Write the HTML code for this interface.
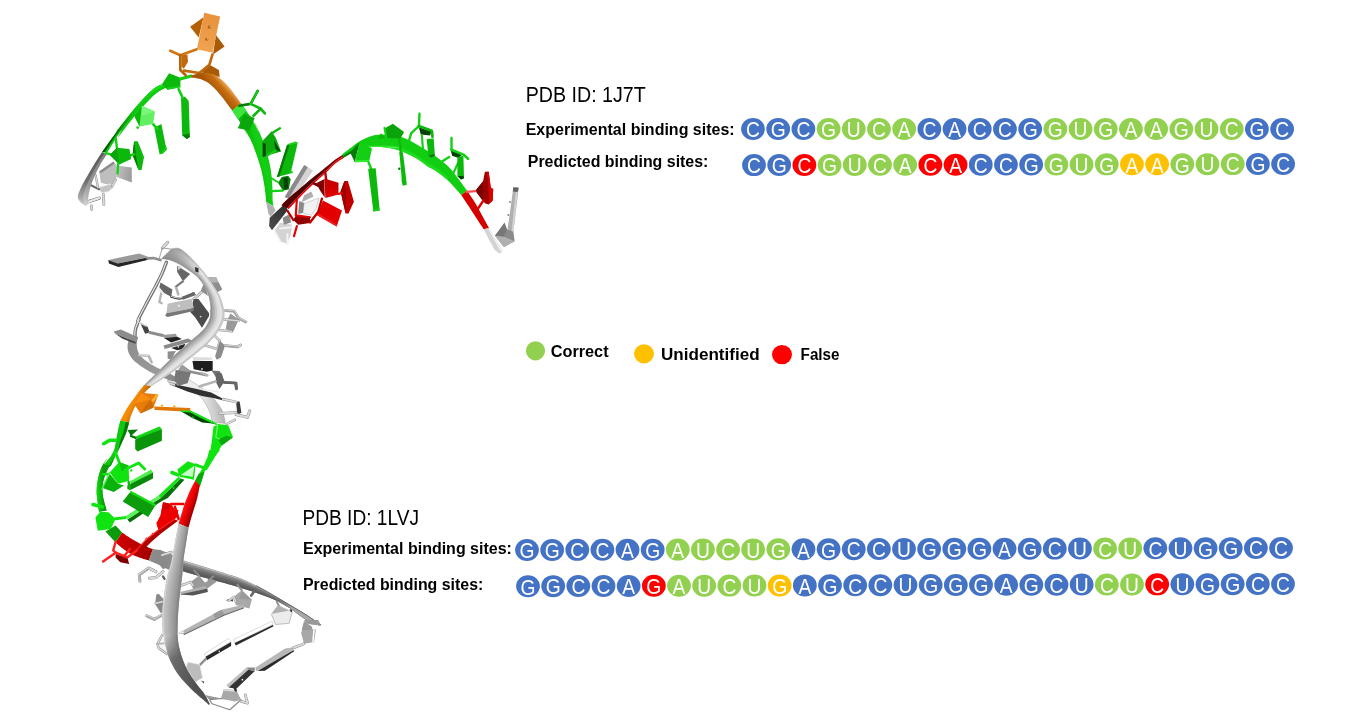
<!DOCTYPE html>
<html><head><meta charset="utf-8"><title>RNA binding sites</title>
<style>
html,body{margin:0;padding:0;background:#fff;}
body{width:1349px;height:720px;overflow:hidden;position:relative;font-family:"Liberation Sans",sans-serif;}
svg{position:absolute;left:0;top:0;will-change:transform;font-family:"Liberation Sans",sans-serif;}
</style></head><body>
<svg width="1349" height="720" viewBox="0 0 1349 720">
<g id="mol">
<defs><linearGradient id="ag1" gradientUnits="userSpaceOnUse" x1="116.7" y1="171.5" x2="131.8" y2="175.1"><stop offset="0" stop-color="#C0C0C0"/><stop offset="1" stop-color="#9C9C9C"/></linearGradient><linearGradient id="ag2" gradientUnits="userSpaceOnUse" x1="162.0" y1="84.3" x2="102.1" y2="151.9"><stop offset="0" stop-color="#18E018"/><stop offset="0.45" stop-color="#10C010"/><stop offset="0.75" stop-color="#087008"/><stop offset="1" stop-color="#045004"/></linearGradient><linearGradient id="ag3" gradientUnits="userSpaceOnUse" x1="102.1" y1="151.9" x2="83.7" y2="205.9"><stop offset="0" stop-color="#585858"/><stop offset="0.55" stop-color="#6E6E6E"/><stop offset="0.85" stop-color="#A0A0A0"/><stop offset="1" stop-color="#D0D0D0"/></linearGradient><linearGradient id="ag4" gradientUnits="userSpaceOnUse" x1="211.2" y1="14.2" x2="204.7" y2="51.0"><stop offset="0" stop-color="#E8923C"/><stop offset="1" stop-color="#F0A352"/></linearGradient><linearGradient id="ag5" gradientUnits="userSpaceOnUse" x1="219.1" y1="95.6" x2="232.2" y2="83.7"><stop offset="0" stop-color="#A85606"/><stop offset="0.45" stop-color="#C66E12"/><stop offset="0.8" stop-color="#F8B468"/><stop offset="1" stop-color="#E89030"/></linearGradient><linearGradient id="ag6" gradientUnits="userSpaceOnUse" x1="249.7" y1="155.6" x2="269.8" y2="150.8"><stop offset="0" stop-color="#0CB80C"/><stop offset="0.6" stop-color="#14D014"/><stop offset="1" stop-color="#10C410"/></linearGradient><linearGradient id="ag7" gradientUnits="userSpaceOnUse" x1="285.1" y1="204.7" x2="269.7" y2="226.0"><stop offset="0" stop-color="#2E2E2E"/><stop offset="1" stop-color="#4A4A4A"/></linearGradient><linearGradient id="ag8" gradientUnits="userSpaceOnUse" x1="331.3" y1="179.7" x2="331.3" y2="197.5"><stop offset="0" stop-color="#C00000"/><stop offset="1" stop-color="#E20000"/></linearGradient><linearGradient id="ag9" gradientUnits="userSpaceOnUse" x1="343.2" y1="155.3" x2="286.7" y2="205.2"><stop offset="0" stop-color="#A80000"/><stop offset="0.25" stop-color="#6A0000"/><stop offset="0.6" stop-color="#4A0000"/><stop offset="1" stop-color="#560000"/></linearGradient><linearGradient id="ag10" gradientUnits="userSpaceOnUse" x1="392.2" y1="145.1" x2="392.2" y2="148.9"><stop offset="0" stop-color="#12CE12"/><stop offset="0.6" stop-color="#40F440"/><stop offset="1" stop-color="#1CDC1C"/></linearGradient></defs>
<polygon points="304.2,165.1 313.1,170.4 295.9,195.9 287.6,198.9 284.7,197.1" fill="#D4D4D4"/>
<polygon points="304.2,165.1 307.8,167.2 288.8,198.3 284.7,197.1" fill="#8A8A8A"/>
<polygon points="304.1,203.5 318.9,198.1 315.9,209.4 311.2,215.3 302.9,213.0" fill="#F2F2F2" stroke="#999" stroke-width="0.4" stroke-linejoin="round"/>
<polygon points="304.1,195.2 311.2,191.6 313.5,196.4 301.7,202.3" fill="#B0B0B0"/>
<polygon points="299.3,201.1 304.1,202.9 302.9,213.0 298.1,214.1" fill="#8A8A8A"/>
<polygon points="181.0,98.0 185.1,96.8 188.7,100.9 189.9,137.1 186.9,138.9 182.2,135.3" fill="#0CB80C"/>
<polygon points="182.2,135.3 186.9,138.9 189.9,137.1 189.3,133.5" fill="#087A08"/>
<polyline points="178.6,89.1 182.8,98.0" fill="none" stroke="#14D014" stroke-width="2.64" stroke-linecap="round" stroke-linejoin="round"/>
<polygon points="154.3,127.6 161.4,124.1 165.6,145.1 166.8,149.6 162.6,153.7 159.6,154.3" fill="#0CB80C"/>
<polygon points="159.6,154.3 162.6,153.7 166.8,149.6 166.2,146.6" fill="#14D014"/>
<polyline points="153.1,124.1 157.3,128.8" fill="none" stroke="#14D014" stroke-width="2.64" stroke-linecap="round" stroke-linejoin="round"/>
<polygon points="134.1,141.3 137.7,141.3 144.0,157.0 141.6,170.1 138.5,170.1 132.6,154.9" fill="#0CB80C"/>
<polygon points="132.6,154.9 134.1,141.3 135.9,155.5 138.5,170.1" fill="#087A08"/>
<polyline points="130.0,155.5 134.1,154.3" fill="none" stroke="#14D014" stroke-width="2.64" stroke-linecap="round" stroke-linejoin="round"/>
<polygon points="99.1,171.5 113.4,161.4 116.7,165.6 116.7,176.9 112.2,185.8 100.9,182.8" fill="#BEBEBE"/>
<polygon points="99.1,171.5 113.4,161.4 114.6,163.8 100.9,173.3" fill="#8E8E8E"/>
<polygon points="116.7,165.6 131.8,167.4 131.8,182.4 116.7,176.9" fill="url(#ag1)"/>
<polygon points="98.0,187.5 109.8,184.0 114.0,186.9 108.6,191.7 101.5,192.9" fill="#C4C4C4" stroke="#F4F4F4" stroke-width="0.9" stroke-linejoin="round"/>
<polyline points="90.8,185.2 99.1,189.3" fill="none" stroke="#606060" stroke-width="1.92" stroke-linecap="round" stroke-linejoin="round"/>
<polyline points="112.2,185.8 115.8,179.8" fill="none" stroke="#8C8C8C" stroke-width="2.52" stroke-linecap="round" stroke-linejoin="round"/>
<polyline points="112.2,185.8 115.8,179.8" fill="none" stroke="#DADADA" stroke-width="1.62" stroke-linecap="round" stroke-linejoin="round"/>
<polyline points="103.3,194.1 103.9,204.7" fill="none" stroke="#8C8C8C" stroke-width="2.76" stroke-linecap="round" stroke-linejoin="round"/>
<polyline points="103.3,194.1 103.9,204.7" fill="none" stroke="#DADADA" stroke-width="1.8599999999999999" stroke-linecap="round" stroke-linejoin="round"/>
<polyline points="99.1,198.2 87.9,201.8" fill="none" stroke="#555" stroke-width="3.2399999999999998" stroke-linecap="round" stroke-linejoin="round"/>
<polyline points="99.1,198.2 87.9,201.8" fill="none" stroke="#E8E8E8" stroke-width="2.34" stroke-linecap="round" stroke-linejoin="round"/>
<polyline points="91.4,205.9 91.8,209.5" fill="none" stroke="#8C8C8C" stroke-width="2.76" stroke-linecap="round" stroke-linejoin="round"/>
<polyline points="91.4,205.9 91.8,209.5" fill="none" stroke="#DADADA" stroke-width="1.8599999999999999" stroke-linecap="round" stroke-linejoin="round"/>
<polyline points="95.6,175.1 98.0,187.5" fill="none" stroke="#8C8C8C" stroke-width="2.2800000000000002" stroke-linecap="round" stroke-linejoin="round"/>
<polyline points="95.6,175.1 98.0,187.5" fill="none" stroke="#DADADA" stroke-width="1.3800000000000001" stroke-linecap="round" stroke-linejoin="round"/>
<path d="M180.4,79.0 C177.3,79.9 166.7,82.5 162.0,84.3 C157.4,86.1 155.7,87.2 152.5,89.7 C149.4,92.1 146.2,95.8 143.0,99.1 C139.9,102.5 136.7,106.1 133.5,109.8 C130.4,113.6 127.0,117.9 124.1,121.7 C121.1,125.4 116.9,130.8 115.8,132.4 C114.6,133.9 119.2,127.9 116.9,131.2 C114.7,134.5 104.6,148.5 102.1,151.9 L107.4,152.5 C109.7,148.9 119.3,133.2 121.1,130.6 C122.9,128.0 117.2,137.8 118.1,137.1 C119.0,136.4 123.5,130.2 126.4,126.4 C129.4,122.7 132.8,118.3 135.9,114.6 C139.1,110.8 142.2,107.3 145.4,103.9 C148.6,100.5 151.7,97.0 154.9,94.4 C158.1,91.8 160.1,90.7 164.4,88.5 C168.6,86.2 177.7,82.0 180.4,80.8 Z" fill="#10C810"/>
<path d="M180.4,79.0 C177.3,79.9 166.7,82.5 162.0,84.3 C157.4,86.1 155.7,87.2 152.5,89.7 C149.4,92.1 146.2,95.8 143.0,99.1 C139.9,102.5 136.7,106.1 133.5,109.8 C130.4,113.6 127.0,117.9 124.1,121.7 C121.1,125.4 116.9,130.8 115.8,132.4 C114.6,133.9 119.2,127.9 116.9,131.2 C114.7,134.5 104.6,148.5 102.1,151.9 L104.8,152.2 C107.2,148.7 117.0,133.8 119.0,130.9 C121.0,128.0 115.9,135.9 116.9,134.7 C118.0,133.6 122.3,127.8 125.2,124.1 C128.2,120.3 131.6,116.0 134.7,112.2 C137.9,108.4 141.1,104.9 144.2,101.5 C147.4,98.2 150.5,94.5 153.7,92.0 C156.9,89.5 158.8,88.4 163.2,86.4 C167.7,84.4 177.5,81.0 180.4,79.9 Z" fill="url(#ag2)"/>
<path d="M102.1,151.9 C101.0,153.6 97.9,158.4 95.6,162.0 C93.3,165.7 90.6,170.1 88.5,173.9 C86.3,177.6 84.3,180.8 82.5,184.6 C80.8,188.3 78.1,193.5 77.8,196.4 C77.5,199.4 79.4,200.8 80.8,202.4 C82.1,203.9 85.2,205.3 86.1,205.9 L86.3,205.9 C86.6,205.5 87.5,205.3 87.9,203.5 C88.2,201.8 88.0,198.2 88.5,195.2 C89.0,192.3 89.8,189.1 90.8,185.8 C91.9,182.4 93.4,178.6 95.0,175.1 C96.6,171.5 98.4,167.9 100.3,164.4 C102.3,160.9 105.8,156.0 106.9,154.3 Z" fill="url(#ag3)"/>
<path d="M104.5,153.1 C103.4,154.8 100.1,159.7 98.0,163.2 C95.8,166.8 93.6,170.8 91.7,174.5 C89.9,178.1 88.1,181.6 86.7,185.2 C85.3,188.7 83.5,192.9 83.1,195.8 C82.7,198.8 83.8,201.3 84.3,203.0 C84.8,204.6 85.9,205.4 86.2,205.9 L86.3,205.9 C86.6,205.5 87.5,205.3 87.9,203.5 C88.2,201.8 88.0,198.2 88.5,195.2 C89.0,192.3 89.8,189.1 90.8,185.8 C91.9,182.4 93.4,178.6 95.0,175.1 C96.6,171.5 98.4,167.9 100.3,164.4 C102.3,160.9 105.8,156.0 106.9,154.3 Z" fill="#FFFFFF40"/>
<polygon points="169.1,73.3 180.4,77.8 180.4,87.3 167.4,89.7 162.0,84.3" fill="#0CB80C"/>
<polygon points="167.4,89.7 180.4,87.3 180.4,85.5 166.8,87.5" fill="#14D014"/>
<polyline points="180.4,79.0 191.1,76.0" fill="none" stroke="#14D014" stroke-width="2.88" stroke-linecap="round" stroke-linejoin="round"/>
<polygon points="141.9,105.7 154.9,111.6 153.1,124.1 139.5,126.4 134.1,115.8" fill="#62F062"/>
<polygon points="134.1,115.8 141.9,105.7 140.7,115.8 139.5,126.4" fill="#0CB80C"/>
<polygon points="141.9,105.7 154.9,111.6 141.9,115.8" fill="#7CF67C"/>
<circle cx="137.7" cy="127.6" r="1.4" fill="#14D014"/>
<polyline points="115.8,138.3 116.9,147.8" fill="none" stroke="#14D014" stroke-width="2.4" stroke-linecap="round" stroke-linejoin="round"/>
<polyline points="105.7,153.1 111.0,154.3" fill="none" stroke="#14D014" stroke-width="2.4" stroke-linecap="round" stroke-linejoin="round"/>
<polygon points="116.9,147.8 129.4,149.0 131.2,159.1 119.3,164.4 109.8,154.9" fill="#0CB80C"/>
<polygon points="116.9,147.8 119.3,164.4 109.8,154.9" fill="#0AA50A"/>
<polyline points="118.1,163.8 117.5,173.3" fill="none" stroke="#14D014" stroke-width="2.4" stroke-linecap="round" stroke-linejoin="round"/>
<polygon points="190.1,26.7 203.5,17.2 198.7,37.4" fill="#B46006"/>
<polygon points="215.9,35.0 224.6,46.6 213.0,54.6" fill="#A85A06"/>
<polygon points="209.4,64.7 218.9,70.0 219.7,77.1 201.7,72.4" fill="#A85A06"/>
<polygon points="181.5,55.2 187.4,54.6 188.0,61.7 183.9,68.8 181.5,66.4" fill="#C0680C"/>
<polyline points="170.2,50.8 180.3,55.2 196.9,49.2" fill="none" stroke="#D07414" stroke-width="2.64" stroke-linecap="round" stroke-linejoin="round"/>
<polyline points="180.3,55.2 180.3,70.0 185.7,75.3" fill="none" stroke="#B8640A" stroke-width="2.64" stroke-linecap="round" stroke-linejoin="round"/>
<polyline points="183.9,70.6 199.3,73.0 209.4,64.7 212.4,54.6" fill="none" stroke="#C0680C" stroke-width="2.64" stroke-linecap="round" stroke-linejoin="round"/>
<polygon points="204.3,12.8 220.1,16.4 212.6,52.8 196.9,49.2" fill="url(#ag4)"/>
<circle cx="209.4" cy="27.0" r="1.7" fill="#A86414"/>
<circle cx="206.7" cy="39.1" r="1.7" fill="#A86414"/>
<circle cx="210.0" cy="26.7" r="0.7" fill="#F4C088"/>
<circle cx="207.3" cy="38.8" r="0.7" fill="#F4C088"/>
<path d="M191.3,75.4 C192.9,75.0 198.1,73.3 201.4,73.0 C204.6,72.8 207.9,72.9 210.8,73.6 C213.8,74.4 216.4,75.8 219.1,77.8 C221.9,79.8 224.9,82.7 227.4,85.5 C230.0,88.3 232.3,91.4 234.6,94.4 C236.8,97.4 240.0,101.8 241.1,103.3 L232.2,110.4 C231.0,108.8 227.6,104.2 225.1,100.9 C222.5,97.7 219.5,93.8 216.8,90.8 C214.0,87.9 211.2,85.1 208.5,83.1 C205.7,81.2 203.0,79.9 200.2,79.0 C197.3,78.1 192.8,78.0 191.3,77.8 Z" fill="url(#ag5)"/>
<path d="M241.1,103.3 C242.0,104.6 244.4,107.9 246.4,111.0 C248.5,114.1 251.4,117.9 253.5,121.7 C255.7,125.4 259.3,133.6 259.5,133.5 C259.6,133.5 254.3,121.1 254.4,121.2 C254.5,121.3 258.4,129.3 260.3,134.2 C262.3,139.2 264.6,145.3 266.3,150.8 C267.9,156.4 269.4,161.9 270.4,167.4 C271.4,173.0 271.8,178.3 272.2,184.1 C272.6,189.8 272.5,198.1 272.8,201.9 C273.1,205.6 273.6,205.7 273.8,206.4 L266.1,201.7 C266.1,201.7 266.5,204.4 266.3,201.9 C266.0,199.3 265.3,191.6 264.5,186.4 C263.7,181.3 262.8,176.1 261.5,171.0 C260.2,165.9 258.6,160.7 256.8,155.6 C255.0,150.4 253.0,144.7 250.8,140.2 C248.7,135.6 244.1,128.6 243.7,128.3 C243.4,128.0 248.7,138.2 248.8,138.3 C248.9,138.4 245.8,132.0 244.1,128.8 C242.3,125.6 240.1,122.4 238.1,119.3 C236.1,116.2 233.2,111.9 232.2,110.4 Z" fill="url(#ag6)"/>
<polygon points="232.2,110.4 241.1,103.3 246.4,111.0 238.1,119.3" fill="#3CE43C"/>
<polyline points="239.3,105.7 250.6,103.9 257.7,90.8" fill="none" stroke="#087A08" stroke-width="2.64" stroke-linecap="round" stroke-linejoin="round"/>
<polyline points="250.6,103.9 260.7,108.6 264.8,113.4" fill="none" stroke="#0CB80C" stroke-width="2.64" stroke-linecap="round" stroke-linejoin="round"/>
<polyline points="260.7,108.6 253.5,115.8" fill="none" stroke="#0CB80C" stroke-width="2.64" stroke-linecap="round" stroke-linejoin="round"/>
<polyline points="250.6,103.9 257.7,90.8" fill="none" stroke="#14D014" stroke-width="1.92" stroke-linecap="round" stroke-linejoin="round"/>
<polygon points="244.1,114.0 254.7,118.1 249.4,130.6 237.8,128.2" fill="#0AA80A"/>
<polyline points="272.2,133.0 279.9,128.3" fill="none" stroke="#0CB80C" stroke-width="2.4" stroke-linecap="round" stroke-linejoin="round"/>
<polygon points="262.7,140.8 271.6,131.3 275.8,137.8 281.1,151.4 267.4,155.6 262.7,156.8" fill="#0CA80C"/>
<polygon points="262.7,142.5 265.7,143.7 265.7,156.2 262.7,156.8" fill="#034403"/>
<polygon points="274.0,140.2 280.5,151.4 275.8,149.7" fill="#034403"/>
<polyline points="267.4,155.6 275.8,150.2" fill="none" stroke="#14D014" stroke-width="1.92" stroke-linecap="round" stroke-linejoin="round"/>
<polygon points="287.0,144.9 297.7,143.1 290.6,173.4 276.9,176.9" fill="#0CB80C"/>
<polygon points="287.0,144.3 295.9,141.4 298.3,143.1 289.4,145.5" fill="#14D014"/>
<polygon points="287.0,144.9 289.4,145.5 279.3,176.7 276.9,176.9" fill="#087A08"/>
<polygon points="281.7,176.9 288.2,175.8 290.6,179.3 288.8,189.4 282.9,190.6 278.1,182.9" fill="#087A08"/>
<polygon points="283.5,178.1 287.6,177.5 288.2,188.2 284.1,189.4" fill="#034403"/>
<polyline points="269.2,176.9 278.1,182.3" fill="none" stroke="#14D014" stroke-width="1.92" stroke-linecap="round" stroke-linejoin="round"/>
<polyline points="271.6,191.2 282.9,190.6" fill="none" stroke="#14D014" stroke-width="2.16" stroke-linecap="round" stroke-linejoin="round"/>
<polyline points="290.0,172.2 291.8,172.2" fill="none" stroke="#14D014" stroke-width="2.16" stroke-linecap="round" stroke-linejoin="round"/>
<polygon points="266.1,201.7 273.8,207.0 275.6,210.6 270.8,216.5 268.5,214.1" fill="#B0B0B0"/>
<polygon points="274.4,230.8 280.3,241.4 287.4,243.8 291.0,234.3 292.2,224.8 280.3,222.4" fill="#D4D4D4"/>
<polyline points="274.4,230.8 280.3,241.4" fill="none" stroke="#F2F2F2" stroke-width="1.92" stroke-linecap="round" stroke-linejoin="round"/>
<polyline points="287.4,234.3 287.4,243.8" fill="none" stroke="#F2F2F2" stroke-width="2.16" stroke-linecap="round" stroke-linejoin="round"/>
<polyline points="280.3,228.4 292.2,227.2" fill="none" stroke="#F2F2F2" stroke-width="1.92" stroke-linecap="round" stroke-linejoin="round"/>
<polygon points="282.7,217.7 289.8,214.1 291.0,222.4 283.9,224.8" fill="#8A8A8A"/>
<polygon points="269.7,217.7 285.7,202.9 287.4,210.6 272.0,230.2 269.1,226.0" fill="url(#ag7)"/>
<polygon points="315.9,183.3 324.2,179.2 324.8,197.5 320.7,191.6" fill="#7E0000"/>
<polygon points="324.2,178.6 338.5,182.7 338.5,194.6 325.4,198.1" fill="url(#ag8)"/>
<polygon points="344.4,180.9 347.9,180.9 353.9,201.7 348.5,213.6 345.6,213.6 340.6,191.6" fill="#C00000"/>
<polygon points="340.6,191.6 344.4,180.9 346.2,192.8 345.6,213.6" fill="#A00000"/>
<polyline points="338.5,194.0 342.3,192.8" fill="none" stroke="#E20000" stroke-width="2.16" stroke-linecap="round" stroke-linejoin="round"/>
<polygon points="323.0,200.5 342.0,210.6 336.7,226.6 317.1,215.3" fill="#E20000"/>
<polygon points="317.1,215.3 336.7,226.6 337.3,224.8 318.3,213.6" fill="#F02020"/>
<polygon points="295.8,215.3 310.0,217.1 310.0,223.0 298.1,224.8 293.4,220.1" fill="#900000"/>
<polyline points="296.9,198.7 295.8,215.3" fill="none" stroke="#E20000" stroke-width="2.16" stroke-linecap="round" stroke-linejoin="round"/>
<polyline points="287.4,210.6 293.4,220.1" fill="none" stroke="#C00000" stroke-width="2.16" stroke-linecap="round" stroke-linejoin="round"/>
<polyline points="295.8,215.3 310.0,217.1" fill="none" stroke="#E20000" stroke-width="1.92" stroke-linecap="round" stroke-linejoin="round"/>
<polyline points="310.0,222.4 318.3,211.8 321.9,198.7" fill="none" stroke="#C00000" stroke-width="2.4" stroke-linecap="round" stroke-linejoin="round"/>
<polyline points="296.9,226.0 294.0,236.1" fill="none" stroke="#E20000" stroke-width="2.16" stroke-linecap="round" stroke-linejoin="round"/>
<polyline points="313.5,183.3 318.3,185.7" fill="none" stroke="#7E0000" stroke-width="2.16" stroke-linecap="round" stroke-linejoin="round"/>
<path d="M343.2,154.4 C341.9,155.3 339.1,156.7 335.6,159.3 C332.2,161.9 326.5,166.8 322.5,170.0 C318.6,173.2 315.6,175.3 311.8,178.4 C308.0,181.4 303.8,185.1 299.9,188.5 C295.9,191.9 291.0,195.9 287.9,198.7 C284.8,201.4 282.4,204.1 281.3,205.2 L287.3,208.2 C288.8,206.6 293.2,201.8 296.3,198.7 C299.4,195.5 302.6,192.2 305.8,189.1 C309.0,186.0 312.2,183.0 315.4,180.1 C318.6,177.3 321.6,174.9 324.9,171.8 C328.3,168.7 332.5,164.3 335.6,161.7 C338.7,159.2 342.1,157.4 343.5,156.6 Z" fill="url(#ag9)"/>
<path d="M343.5,156.6 C342.1,157.4 338.7,159.2 335.6,161.7 C332.5,164.3 328.3,168.7 324.9,171.8 C321.6,174.9 318.6,177.3 315.4,180.1 C312.2,183.0 309.0,186.0 305.8,189.1 C302.6,192.2 299.4,195.5 296.3,198.7 C293.2,201.8 288.8,206.6 287.3,208.2 L288.8,208.9 C290.3,207.3 294.7,202.6 297.8,199.4 C300.8,196.2 304.1,192.9 307.3,189.8 C310.5,186.7 313.7,183.7 316.9,180.7 C320.0,177.8 323.3,175.2 326.4,172.3 C329.5,169.4 332.8,165.7 335.6,163.3 C338.5,161.0 342.3,158.9 343.6,158.0 Z" fill="#E20000"/>
<polyline points="325.0,171.0 326.2,179.3" fill="none" stroke="#C00000" stroke-width="2.4" stroke-linecap="round" stroke-linejoin="round"/>
<polyline points="313.7,183.5 319.6,186.4" fill="none" stroke="#7E0000" stroke-width="2.16" stroke-linecap="round" stroke-linejoin="round"/>
<path d="M342.4,154.0 C344.0,152.8 348.7,149.1 351.9,146.9 C355.0,144.6 358.2,142.1 361.4,140.3 C364.5,138.6 367.7,137.2 370.8,136.2 C374.0,135.2 376.8,134.5 380.3,134.4 C383.9,134.3 388.2,135.0 392.2,135.6 C396.1,136.2 400.1,136.6 404.1,138.0 C408.0,139.3 412.0,141.7 415.9,143.9 C419.9,146.1 423.8,148.4 427.8,151.0 C431.7,153.6 435.7,156.1 439.6,159.3 C443.6,162.5 446.9,164.7 451.5,170.0 C456.1,175.2 464.5,187.3 467.1,190.8 L461.2,194.9 C458.8,192.3 451.4,183.6 446.9,179.5 C442.5,175.3 437.7,172.2 434.5,170.0 C431.3,167.8 430.9,168.4 427.8,166.4 C424.7,164.5 419.9,160.5 415.9,158.1 C412.0,155.8 408.0,153.8 404.1,152.2 C400.1,150.6 396.0,149.5 392.2,148.6 C388.4,147.7 384.9,147.2 381.5,146.9 C378.2,146.6 375.2,146.6 372.0,146.9 C368.9,147.2 365.7,147.7 362.5,148.6 C359.4,149.5 356.3,150.6 353.0,152.2 C349.8,153.8 344.6,157.1 343.0,158.1 Z" fill="#12CE12"/>
<path d="M362.5,146.5 C364.1,146.1 368.9,144.6 372.0,144.1 C375.2,143.7 378.2,143.7 381.5,143.9 C384.9,144.1 388.4,144.7 392.2,145.6 C396.0,146.4 400.1,147.3 404.1,148.9 C408.0,150.4 412.0,152.5 415.9,154.8 C419.9,157.1 424.3,160.6 427.8,162.9 C431.3,165.1 433.4,165.7 436.9,168.2 C440.3,170.8 446.7,176.4 448.7,178.1 L446.9,179.5 C444.9,177.9 437.7,172.2 434.5,170.0 C431.3,167.8 430.9,168.4 427.8,166.4 C424.7,164.5 419.9,160.5 415.9,158.1 C412.0,155.8 408.0,153.8 404.1,152.2 C400.1,150.6 396.0,149.5 392.2,148.6 C388.4,147.7 384.9,147.2 381.5,146.9 C378.2,146.6 375.2,146.6 372.0,146.9 C368.9,147.2 364.1,148.3 362.5,148.6 Z" fill="url(#ag10)"/>
<polygon points="343.0,158.1 353.0,152.2 357.8,149.8 351.9,150.4 342.6,156.0" fill="#087A08"/>
<polygon points="350.1,152.2 359.6,142.1 354.8,162.3" fill="#087A08"/>
<polygon points="359.6,142.1 372.0,148.6 369.1,161.7 354.8,162.3" fill="#14D014"/>
<polygon points="354.8,162.3 369.1,161.7 368.8,159.9 354.8,160.3" fill="#30EE30"/>
<polyline points="368.5,162.3 371.4,169.4" fill="none" stroke="#14D014" stroke-width="2.4" stroke-linecap="round" stroke-linejoin="round"/>
<polygon points="368.1,168.7 375.7,168.2 379.7,210.5 373.4,211.4" fill="#0CB80C"/>
<polygon points="373.4,211.4 379.7,210.5 379.4,208.3 373.2,209.2" fill="#14D014"/>
<polygon points="378.0,139.1 380.9,133.2 385.7,138.0" fill="#0CB80C"/>
<polygon points="392.8,123.7 404.1,132.0 400.5,138.6 386.9,138.0 384.5,128.5" fill="#0AA40A"/>
<polyline points="384.5,127.9 386.3,137.4" fill="none" stroke="#14D014" stroke-width="2.16" stroke-linecap="round" stroke-linejoin="round"/>
<polyline points="399.3,139.1 401.1,154.6" fill="none" stroke="#0CB80C" stroke-width="2.4" stroke-linecap="round" stroke-linejoin="round"/>
<polygon points="399.3,152.2 402.9,152.2 407.0,185.1 404.8,170.0 406.8,184.8 402.8,185.7 399.5,170.0 402.3,185.1" fill="#0CB80C"/>
<circle cx="399.3" cy="168.8" r="1.2" fill="#087A08"/>
<polygon points="418.9,127.3 431.3,131.4 430.2,135.6 420.7,134.4" fill="#034403"/>
<polyline points="419.5,113.6 418.9,126.1" fill="none" stroke="#14D014" stroke-width="2.4" stroke-linecap="round" stroke-linejoin="round"/>
<polyline points="418.9,126.1 411.2,133.2 408.8,141.5" fill="none" stroke="#14D014" stroke-width="2.4" stroke-linecap="round" stroke-linejoin="round"/>
<polyline points="418.9,126.1 431.9,130.8 432.5,136.8" fill="none" stroke="#0CB80C" stroke-width="2.64" stroke-linecap="round" stroke-linejoin="round"/>
<polyline points="421.9,135.6 423.0,149.8" fill="none" stroke="#14D014" stroke-width="2.16" stroke-linecap="round" stroke-linejoin="round"/>
<polygon points="426.6,139.1 433.7,138.6 434.9,155.8 431.3,157.5 428.4,155.8" fill="#0CB80C"/>
<polygon points="428.4,155.8 431.3,157.5 434.9,155.8 434.3,154.0" fill="#087A08"/>
<polygon points="450.9,150.4 462.2,154.6 458.6,158.1 452.1,155.8" fill="#034403"/>
<polyline points="451.5,138.0 451.5,149.8" fill="none" stroke="#14D014" stroke-width="2.4" stroke-linecap="round" stroke-linejoin="round"/>
<polyline points="451.5,149.8 463.4,154.6 468.1,158.7" fill="none" stroke="#14D014" stroke-width="2.64" stroke-linecap="round" stroke-linejoin="round"/>
<polyline points="449.1,156.9 439.6,162.9" fill="none" stroke="#14D014" stroke-width="2.4" stroke-linecap="round" stroke-linejoin="round"/>
<polyline points="458.6,161.7 452.7,174.7" fill="none" stroke="#14D014" stroke-width="2.16" stroke-linecap="round" stroke-linejoin="round"/>
<polygon points="457.4,156.9 463.4,155.8 464.0,178.3 461.0,179.5 457.4,175.9" fill="#0CB80C"/>
<polygon points="457.4,175.9 461.0,179.5 464.0,178.3 463.4,175.9" fill="#034403"/>
<path d="M467.1,190.8 C468.5,192.8 472.8,199.0 475.4,203.2 C478.0,207.5 480.3,212.1 482.5,216.3 C484.8,220.4 488.0,226.1 489.1,228.1 L483.7,229.3 C482.5,227.5 479.2,222.6 476.6,218.6 C474.0,214.7 470.9,209.5 468.3,205.6 C465.7,201.6 462.4,196.7 461.2,194.9 Z" fill="#D40000"/>
<polygon points="483.7,229.3 489.1,228.1 494.4,237.6 500.3,247.1 502.7,251.9 499.1,253.6 494.4,249.5 488.5,238.8" fill="#D4D4D4"/>
<polyline points="489.1,229.3 501.5,251.9" fill="none" stroke="#F2F2F2" stroke-width="1.2" stroke-linecap="round" stroke-linejoin="round"/>
<polygon points="484.9,171.8 488.7,171.8 490.8,187.8 493.2,189.0 492.6,200.8 488.5,204.4 484.9,203.2 475.4,190.8 483.1,181.3" fill="#9A0000"/>
<polygon points="486.7,171.8 488.7,171.8 490.8,187.8 493.2,189.0 492.6,200.8 489.1,203.8 488.5,187.8" fill="#D80000"/>
<polygon points="475.4,190.8 483.1,181.3 483.7,202.0" fill="#7A0000"/>
<polyline points="466.5,191.9 475.4,191.1" fill="none" stroke="#FF5050" stroke-width="2.16" stroke-linecap="round" stroke-linejoin="round"/>
<polyline points="478.4,208.0 483.7,200.2" fill="none" stroke="#E20000" stroke-width="2.4" stroke-linecap="round" stroke-linejoin="round"/>
<polygon points="513.4,187.2 518.7,187.8 513.4,231.7 507.4,230.5" fill="#B0B0B0"/>
<polygon points="513.4,187.2 518.7,187.8 517.5,191.9 512.8,191.4" fill="#606060"/>
<polygon points="515.7,191.9 517.5,191.9 513.4,231.7 511.6,231.4" fill="#D4D4D4"/>
<circle cx="510.0" cy="202.0" r="1.0" fill="#8A8A8A"/>
<circle cx="508.4" cy="215.1" r="1.0" fill="#8A8A8A"/>
<polygon points="504.5,222.8 506.8,229.3 513.4,231.7 514.6,241.2 503.9,247.1 495.0,235.8" fill="#8A8A8A"/>
<polygon points="495.0,235.8 503.9,236.4 514.6,241.2 503.9,247.1" fill="#B0B0B0"/>
<polygon points="504.5,222.8 506.8,229.3 503.9,236.4 495.0,235.8" fill="#777"/>
<defs><linearGradient id="bg1" gradientUnits="userSpaceOnUse" x1="128.5" y1="345.6" x2="194.9" y2="391.9"><stop offset="0" stop-color="#8E8E8E"/><stop offset="0.5" stop-color="#9A9A9A"/><stop offset="1" stop-color="#666666"/></linearGradient><linearGradient id="bg2" gradientUnits="userSpaceOnUse" x1="201.7" y1="409.1" x2="223.0" y2="405.6"><stop offset="0" stop-color="#EDEDED"/><stop offset="1" stop-color="#B4B4B4"/></linearGradient><linearGradient id="bg3" gradientUnits="userSpaceOnUse" x1="166.4" y1="252.8" x2="200.8" y2="274.1"><stop offset="0" stop-color="#888888D8"/><stop offset="0.45" stop-color="#9A9A9A90"/><stop offset="1" stop-color="#AAAAAA00"/></linearGradient><linearGradient id="bg4" gradientUnits="userSpaceOnUse" x1="127.4" y1="402.8" x2="139.3" y2="408.7"><stop offset="0" stop-color="#FF9408"/><stop offset="0.45" stop-color="#F08808"/><stop offset="1" stop-color="#C06404"/></linearGradient><linearGradient id="bg5" gradientUnits="userSpaceOnUse" x1="96.6" y1="485.6" x2="103.7" y2="485.6"><stop offset="0" stop-color="#12DC12"/><stop offset="1" stop-color="#0A9A0A"/></linearGradient><linearGradient id="bg6" gradientUnits="userSpaceOnUse" x1="184.4" y1="504.6" x2="193.9" y2="508.1"><stop offset="0" stop-color="#FF1010"/><stop offset="0.5" stop-color="#E80000"/><stop offset="1" stop-color="#A00000"/></linearGradient><linearGradient id="bg7" gradientUnits="userSpaceOnUse" x1="119.1" y1="537.3" x2="151.2" y2="555.1"><stop offset="0" stop-color="#D00000"/><stop offset="1" stop-color="#A40000"/></linearGradient><linearGradient id="bg8" gradientUnits="userSpaceOnUse" x1="273.0" y1="597.0" x2="320.0" y2="625.0"><stop offset="0" stop-color="#70707000"/><stop offset="0.4" stop-color="#A4A4A4"/><stop offset="1" stop-color="#ACACAC"/></linearGradient><linearGradient id="bg9" gradientUnits="userSpaceOnUse" x1="169.3" y1="635.0" x2="193.0" y2="688.4"><stop offset="0" stop-color="#6A6A6A00"/><stop offset="0.4" stop-color="#5A5A5ACC"/><stop offset="1" stop-color="#4A4A4AEE"/></linearGradient></defs>
<path d="M134.4,334.9 C133.4,335.9 129.6,338.3 128.5,340.8 C127.4,343.4 127.3,347.4 127.9,350.3 C128.5,353.3 130.0,356.1 132.0,358.6 C134.1,361.2 137.4,363.6 140.3,365.8 C143.3,367.9 146.5,369.9 149.8,371.7 C153.2,373.5 156.9,374.8 160.5,376.4 C164.1,378.0 167.4,379.4 171.2,381.2 C174.9,383.0 179.1,385.1 183.0,387.1 C187.0,389.1 192.9,392.0 194.9,393.0 L202.0,390.7 C200.0,389.5 194.3,385.7 190.2,383.5 C186.0,381.4 181.1,379.6 177.1,377.6 C173.2,375.6 170.0,373.5 166.4,371.7 C162.9,369.9 159.1,368.7 155.8,366.9 C152.4,365.2 149.0,363.2 146.3,361.0 C143.5,358.8 140.7,356.5 139.1,353.9 C137.6,351.3 137.0,348.4 136.8,345.6 C136.6,342.8 137.8,338.7 138.0,337.3 Z" fill="url(#bg1)"/>
<path d="M188.6,379.5 C190.8,380.9 197.9,385.0 201.7,387.8 C205.4,390.6 208.4,393.3 211.2,396.1 C213.9,398.9 216.3,401.6 218.3,404.4 C220.3,407.2 221.9,409.5 223.0,412.7 C224.2,415.9 225.0,421.6 225.4,423.4 L212.4,422.2 C212.0,420.6 211.2,415.9 210.0,412.7 C208.8,409.5 207.0,406.1 205.2,403.2 C203.5,400.3 201.5,397.7 199.3,395.5 C197.1,393.3 195.6,391.8 192.2,390.2 C188.8,388.5 181.3,386.2 179.1,385.4 Z" fill="url(#bg2)" stroke="#888" stroke-width="0.4"/>
<polygon points="168.5,381.3 179.1,385.2 196.9,389.0 211.2,392.5 223.0,398.7 222.4,400.2 213.5,397.9 201.7,395.9 187.4,391.6 169.7,384.5" fill="#303030"/>
<polygon points="167.9,380.1 174.4,381.9 175.6,386.0 169.1,384.2" fill="#D8D8D8"/>
<path d="M166.4,262.3 C165.6,264.3 163.7,269.8 161.7,274.1 C159.7,278.5 157.1,283.4 154.6,288.4 C152.0,293.3 149.0,298.5 146.3,303.8 C143.5,309.1 139.1,317.4 138.0,320.1 C136.8,322.7 139.5,318.0 139.1,319.5 C138.8,321.0 136.3,326.3 135.6,329.0 C134.9,331.6 135.1,334.4 135.0,335.5" fill="none" stroke="#707070" stroke-width="3.4" stroke-linecap="round"/>
<path d="M166.2,262.5 C165.4,264.5 163.4,270.0 161.4,274.4 C159.5,278.7 156.9,283.7 154.3,288.6 C151.8,293.6 148.8,298.8 146.0,304.0 C143.3,309.3 138.9,317.5 137.7,320.1 C136.5,322.6 139.3,318.0 138.9,319.5 C138.5,321.0 136.0,326.3 135.3,329.0 C134.7,331.6 134.9,334.4 134.8,335.5" fill="none" stroke="#E4E4E4" stroke-width="1.2" stroke-linecap="round"/>
<polygon points="108.3,259.9 139.1,253.4 148.6,256.9 117.8,263.5" fill="#9A9A9A"/>
<polygon points="108.3,259.9 117.8,263.5 148.6,257.3 147.4,260.1 118.4,267.0 108.9,263.5" fill="#262626"/>
<polyline points="147.4,258.4 153.4,258.1 160.5,260.1" fill="none" stroke="#8E8E8E" stroke-width="2.64" stroke-linecap="round" stroke-linejoin="round"/>
<polyline points="162.3,248.0 167.6,242.4" fill="none" stroke="#8C8C8C" stroke-width="3.0" stroke-linecap="round" stroke-linejoin="round"/>
<polyline points="162.3,248.0 167.6,242.4" fill="none" stroke="#DADADA" stroke-width="2.1" stroke-linecap="round" stroke-linejoin="round"/>
<polyline points="159.3,258.1 162.3,248.0 172.4,249.2" fill="none" stroke="#666666" stroke-width="0.6" stroke-linecap="round" stroke-linejoin="round"/>
<polygon points="177.1,265.8 190.2,274.1 183.0,281.3 177.1,271.8" fill="#666666"/>
<polygon points="177.7,265.2 181.9,267.0 178.3,270.6" fill="#D2D2D2"/>
<polyline points="183.0,281.3 175.9,286.6 178.3,294.3" fill="none" stroke="#B4B4B4" stroke-width="2.64" stroke-linecap="round" stroke-linejoin="round"/>
<polyline points="183.3,281.0 176.2,286.4" fill="none" stroke="#666666" stroke-width="1.2" stroke-linecap="round" stroke-linejoin="round"/>
<polygon points="160.5,282.4 172.4,289.6 171.2,296.7 164.1,293.1 159.3,287.2" fill="#666666"/>
<polyline points="161.7,291.9 159.3,302.0 161.7,303.2" fill="none" stroke="#B4B4B4" stroke-width="2.4" stroke-linecap="round" stroke-linejoin="round"/>
<polyline points="158.1,288.4 162.9,293.1" fill="none" stroke="#EDEDED" stroke-width="1.68" stroke-linecap="round" stroke-linejoin="round"/>
<path d="M171.2,296.7 C172.8,297.0 176.9,299.1 180.7,298.5 C184.4,297.9 191.5,294.0 193.7,293.1" fill="none" stroke="#3A3A3A" stroke-width="2.2" stroke-linecap="round"/>
<path d="M171.2,296.3 C172.8,296.6 176.9,298.6 180.7,298.0 C184.4,297.4 191.5,293.6 193.7,292.8" fill="none" stroke="#EDEDED" stroke-width="0.9" stroke-linecap="round"/>
<polygon points="181.9,296.7 193.7,292.2 196.1,294.9 183.0,299.7" fill="#666666"/>
<polyline points="193.7,299.1 202.0,291.9" fill="none" stroke="#8C8C8C" stroke-width="2.76" stroke-linecap="round" stroke-linejoin="round"/>
<polyline points="193.7,299.1 202.0,291.9" fill="none" stroke="#DADADA" stroke-width="1.8599999999999999" stroke-linecap="round" stroke-linejoin="round"/>
<polygon points="203.2,284.8 200.8,290.8 207.9,296.1 205.6,286.0" fill="#8E8E8E"/>
<polygon points="206.8,277.1 216.3,277.1 222.2,289.6 217.4,291.9 211.5,282.4" fill="#B4B4B4"/>
<polygon points="211.5,282.4 217.4,291.9 222.2,289.6 218.6,282.4" fill="#8E8E8E"/>
<polygon points="193.7,299.1 198.5,299.1 209.1,313.3 209.1,315.9 202.0,327.8 194.9,317.1 190.2,312.1" fill="#4C4C4C"/>
<circle cx="200.6" cy="316.6" r="0.9" fill="#D2D2D2"/>
<polygon points="167.6,303.8 191.9,298.8 193.7,308.0 166.4,313.3" fill="#BEBEBE"/>
<polygon points="166.4,313.3 193.7,308.0 193.7,310.9 167.6,317.1 165.2,315.7" fill="#777"/>
<circle cx="178.9" cy="305.8" r="1.1" fill="#EDEDED"/>
<polygon points="113.6,331.4 120.8,329.6 138.0,337.3 135.6,342.0 115.4,333.7" fill="#8C8C8C"/>
<polygon points="115.4,333.7 135.6,342.0 135.6,343.7 122.5,338.7" fill="#444"/>
<polygon points="140.3,323.0 147.4,326.6 149.8,332.5 145.1,333.7" fill="#444"/>
<polyline points="139.1,322.5 146.3,326.0" fill="none" stroke="#D2D2D2" stroke-width="1.44" stroke-linecap="round" stroke-linejoin="round"/>
<polyline points="149.8,332.5 162.9,335.5" fill="none" stroke="#8E8E8E" stroke-width="2.88" stroke-linecap="round" stroke-linejoin="round"/>
<polygon points="162.9,334.9 175.9,333.7 177.1,336.7 164.1,337.9" fill="#999"/>
<polygon points="164.1,337.9 177.1,336.7 181.9,339.1 171.2,342.6" fill="#222"/>
<polygon points="167.6,351.5 175.9,350.9 171.2,359.8 167.6,358.6" fill="#8E8E8E"/>
<polygon points="163.5,345.6 187.8,338.5 193.7,341.1 164.7,349.1" fill="#8A8A8A"/>
<polygon points="171.2,348.0 185.4,343.8 183.0,349.1 177.1,350.3" fill="#2A2A2A"/>
<circle cx="178.3" cy="346.8" r="0.9" fill="#D2D2D2"/>
<polyline points="139.1,355.1 148.6,355.7 151.6,362.2" fill="none" stroke="#B4B4B4" stroke-width="2.64" stroke-linecap="round" stroke-linejoin="round"/>
<polyline points="139.4,354.7 148.6,355.3" fill="none" stroke="#EDEDED" stroke-width="1.08" stroke-linecap="round" stroke-linejoin="round"/>
<polygon points="230.5,313.6 238.8,319.5 232.9,332.5 225.7,329.0 227.5,319.5" fill="#999"/>
<polyline points="225.7,310.6 234.0,311.2 238.8,318.3 245.9,321.9" fill="none" stroke="#8C8C8C" stroke-width="2.76" stroke-linecap="round" stroke-linejoin="round"/>
<polyline points="225.7,310.6 234.0,311.2 238.8,318.3 245.9,321.9" fill="none" stroke="#DADADA" stroke-width="1.8599999999999999" stroke-linecap="round" stroke-linejoin="round"/>
<polyline points="225.7,310.9 234.0,311.7 238.8,318.8 245.9,322.3" fill="none" stroke="#8E8E8E" stroke-width="0.84" stroke-linecap="round" stroke-linejoin="round"/>
<polyline points="219.8,330.2 231.7,331.4" fill="none" stroke="#8C8C8C" stroke-width="2.2800000000000002" stroke-linecap="round" stroke-linejoin="round"/>
<polyline points="219.8,330.2 231.7,331.4" fill="none" stroke="#DADADA" stroke-width="1.3800000000000001" stroke-linecap="round" stroke-linejoin="round"/>
<polyline points="224.6,319.5 238.8,320.7" fill="none" stroke="#8C8C8C" stroke-width="2.2800000000000002" stroke-linecap="round" stroke-linejoin="round"/>
<polyline points="224.6,319.5 238.8,320.7" fill="none" stroke="#DADADA" stroke-width="1.3800000000000001" stroke-linecap="round" stroke-linejoin="round"/>
<polyline points="213.9,334.9 219.8,340.8 217.4,349.1 204.4,345.0" fill="none" stroke="#8C8C8C" stroke-width="2.4" stroke-linecap="round" stroke-linejoin="round"/>
<polyline points="213.9,334.9 219.8,340.8 217.4,349.1 204.4,345.0" fill="none" stroke="#DADADA" stroke-width="1.5" stroke-linecap="round" stroke-linejoin="round"/>
<polyline points="213.9,334.9 204.4,345.0" fill="none" stroke="#8C8C8C" stroke-width="2.04" stroke-linecap="round" stroke-linejoin="round"/>
<polyline points="213.9,334.9 204.4,345.0" fill="none" stroke="#DADADA" stroke-width="1.14" stroke-linecap="round" stroke-linejoin="round"/>
<polygon points="219.8,340.8 225.1,345.6 221.0,357.4 216.8,359.8 215.1,356.3 217.4,349.1" fill="#8C8C8C"/>
<polyline points="225.1,345.6 237.6,346.8 240.6,345.0" fill="none" stroke="#8C8C8C" stroke-width="2.76" stroke-linecap="round" stroke-linejoin="round"/>
<polyline points="225.1,345.6 237.6,346.8 240.6,345.0" fill="none" stroke="#DADADA" stroke-width="1.8599999999999999" stroke-linecap="round" stroke-linejoin="round"/>
<polyline points="225.1,346.1 237.6,347.2" fill="none" stroke="#8E8E8E" stroke-width="0.84" stroke-linecap="round" stroke-linejoin="round"/>
<polygon points="192.5,356.9 211.5,357.4 212.7,359.8 193.7,361.0" fill="#DDD"/>
<polygon points="192.5,361.0 212.7,361.0 212.7,370.5 206.8,371.7 193.7,369.3" fill="#1E1E1E"/>
<circle cx="202.0" cy="369.0" r="0.9" fill="#D2D2D2"/>
<polygon points="181.9,364.6 190.7,371.1 187.8,383.0 177.1,385.9 174.1,376.4" fill="#8A8A8A"/>
<polygon points="181.9,364.6 190.7,371.1 175.9,374.7" fill="#9C9C9C"/>
<polyline points="171.2,369.3 181.9,364.6" fill="none" stroke="#EDEDED" stroke-width="1.68" stroke-linecap="round" stroke-linejoin="round"/>
<polyline points="168.8,381.2 175.9,382.6" fill="none" stroke="#8C8C8C" stroke-width="2.76" stroke-linecap="round" stroke-linejoin="round"/>
<polyline points="168.8,381.2 175.9,382.6" fill="none" stroke="#DADADA" stroke-width="1.8599999999999999" stroke-linecap="round" stroke-linejoin="round"/>
<polyline points="190.7,371.7 206.8,375.2" fill="none" stroke="#8E8E8E" stroke-width="2.64" stroke-linecap="round" stroke-linejoin="round"/>
<polygon points="211.5,370.5 219.8,371.1 224.6,381.2 218.6,387.1 216.8,378.8" fill="#777"/>
<polyline points="224.6,382.4 235.2,383.0 236.4,388.9" fill="none" stroke="#666666" stroke-width="2.64" stroke-linecap="round" stroke-linejoin="round"/>
<polyline points="200.8,385.9 216.3,381.2" fill="none" stroke="#B4B4B4" stroke-width="2.16" stroke-linecap="round" stroke-linejoin="round"/>
<polyline points="203.2,389.5 218.6,391.9" fill="none" stroke="#EDEDED" stroke-width="1.68" stroke-linecap="round" stroke-linejoin="round"/>
<polygon points="175.6,370.0 191.0,372.4 187.4,383.0 179.1,385.4 174.4,380.7" fill="#777"/>
<polygon points="215.9,372.4 221.9,373.6 224.2,381.9 219.5,389.0 215.9,381.9" fill="#666"/>
<polyline points="224.2,382.5 236.1,383.0 236.7,388.4" fill="none" stroke="#666666" stroke-width="2.64" stroke-linecap="round" stroke-linejoin="round"/>
<polyline points="199.3,386.6 215.9,381.3" fill="none" stroke="#B4B4B4" stroke-width="2.16" stroke-linecap="round" stroke-linejoin="round"/>
<polyline points="201.7,373.0 207.6,375.3" fill="none" stroke="#B4B4B4" stroke-width="2.16" stroke-linecap="round" stroke-linejoin="round"/>
<polygon points="236.1,401.4 239.6,401.4 241.4,412.7 237.3,415.1" fill="#3A3A3A"/>
<polyline points="223.0,399.1 236.1,402.0" fill="none" stroke="#8C8C8C" stroke-width="2.76" stroke-linecap="round" stroke-linejoin="round"/>
<polyline points="223.0,399.1 236.1,402.0" fill="none" stroke="#DADADA" stroke-width="1.8599999999999999" stroke-linecap="round" stroke-linejoin="round"/>
<polyline points="219.5,413.3 236.1,412.7" fill="none" stroke="#8C8C8C" stroke-width="2.76" stroke-linecap="round" stroke-linejoin="round"/>
<polyline points="219.5,413.3 236.1,412.7" fill="none" stroke="#DADADA" stroke-width="1.8599999999999999" stroke-linecap="round" stroke-linejoin="round"/>
<polyline points="236.1,414.5 247.4,417.4 249.7,410.9" fill="none" stroke="#8C8C8C" stroke-width="3.0" stroke-linecap="round" stroke-linejoin="round"/>
<polyline points="236.1,414.5 247.4,417.4 249.7,410.9" fill="none" stroke="#DADADA" stroke-width="2.1" stroke-linecap="round" stroke-linejoin="round"/>
<polyline points="234.9,419.8 226.6,424.0" fill="none" stroke="#8C8C8C" stroke-width="2.52" stroke-linecap="round" stroke-linejoin="round"/>
<polyline points="234.9,419.8 226.6,424.0" fill="none" stroke="#DADADA" stroke-width="1.62" stroke-linecap="round" stroke-linejoin="round"/>
<path d="M171.2,249.2 C172.4,249.1 175.9,247.7 178.3,248.3 C180.7,248.9 182.6,250.5 185.4,252.8 C188.2,255.1 191.7,258.9 194.9,262.3 C198.1,265.6 201.4,269.2 204.4,273.0 C207.4,276.7 210.1,280.9 212.7,284.8 C215.3,288.8 218.0,292.7 219.8,296.7 C221.6,300.6 222.7,306.3 223.4,308.5 C224.1,310.8 224.0,308.2 224.0,310.0 C224.0,311.8 224.3,316.1 223.4,319.5 C222.5,322.9 220.8,326.6 218.6,330.2 C216.4,333.7 213.5,337.5 210.3,340.8 C207.2,344.2 203.4,347.2 199.6,350.3 C195.9,353.5 191.7,356.7 187.8,359.8 C183.8,363.0 179.9,366.3 175.9,369.3 C172.0,372.3 167.6,375.2 164.1,377.6 C160.5,380.0 157.3,381.8 154.6,383.5 C151.8,385.3 148.6,387.5 147.4,388.3 L143.9,385.9 C145.3,384.5 149.2,380.6 152.2,377.6 C155.2,374.7 158.3,371.5 161.7,368.1 C165.0,364.8 168.8,360.8 172.4,357.4 C175.9,354.1 179.7,350.9 183.0,348.0 C186.4,345.0 189.6,342.2 192.5,339.7 C195.5,337.1 198.5,334.9 200.8,332.5 C203.2,330.2 205.2,328.0 206.8,325.4 C208.3,322.9 209.7,319.7 210.3,317.1 C210.9,314.5 210.2,311.4 210.3,310.0 C210.4,308.6 211.1,310.8 210.9,308.5 C210.7,306.3 210.2,300.4 209.1,296.7 C208.0,292.9 206.4,289.4 204.4,286.0 C202.4,282.6 200.0,279.3 197.3,276.5 C194.5,273.8 190.9,271.6 187.8,269.4 C184.6,267.2 181.3,265.1 178.3,263.5 C175.3,261.9 172.8,260.7 170.0,259.9 C167.2,259.1 163.1,258.9 161.7,258.7 Z" fill="#BBBBBB" stroke="#8A8A8A" stroke-width="0.5"/>
<path d="M161.7,258.7 C163.1,258.9 167.2,259.1 170.0,259.9 C172.8,260.7 175.3,261.9 178.3,263.5 C181.3,265.1 184.6,267.2 187.8,269.4 C190.9,271.6 194.5,273.8 197.3,276.5 C200.0,279.3 202.4,282.6 204.4,286.0 C206.4,289.4 208.0,292.9 209.1,296.7 C210.2,300.4 210.7,306.3 210.9,308.5 C211.1,310.8 210.4,308.6 210.3,310.0 C210.2,311.4 210.9,314.5 210.3,317.1 C209.7,319.7 208.3,322.9 206.8,325.4 C205.2,328.0 203.2,330.2 200.8,332.5 C198.5,334.9 195.5,337.1 192.5,339.7 C189.6,342.2 186.4,345.0 183.0,348.0 C179.7,350.9 175.9,354.1 172.4,357.4 C168.8,360.8 165.0,364.8 161.7,368.1 C158.3,371.5 155.2,374.7 152.2,377.6 C149.2,380.6 145.3,384.5 143.9,385.9 L147.4,388.3 C148.6,387.5 151.8,385.3 154.6,383.5 C157.3,381.8 160.5,380.0 164.1,377.6 C167.6,375.2 172.0,372.3 175.9,369.3 C179.9,366.3 183.8,363.0 187.8,359.8 C191.7,356.7 195.9,353.5 199.6,350.3 C203.4,347.2 207.2,344.2 210.3,340.8 C213.5,337.5 216.4,333.7 218.6,330.2 C220.8,326.6 222.5,322.9 223.4,319.5 C224.3,316.1 224.0,311.8 224.0,310.0 C224.0,308.2 224.1,310.8 223.4,308.5 C222.7,306.3 221.6,300.6 219.8,296.7 C218.0,292.7 215.3,288.8 212.7,284.8 C210.1,280.9 207.4,276.7 204.4,273.0 C201.4,269.2 198.1,265.6 194.9,262.3 C191.7,258.9 188.2,255.1 185.4,252.8 C182.6,250.5 180.7,248.9 178.3,248.3 C175.9,247.7 172.4,249.1 171.2,249.2 Z" fill="#D1D1D1"/>
<path d="M161.7,258.7 C163.1,258.9 167.2,259.1 170.0,259.9 C172.8,260.7 175.3,261.9 178.3,263.5 C181.3,265.1 184.6,267.2 187.8,269.4 C190.9,271.6 194.5,273.8 197.3,276.5 C200.0,279.3 202.4,282.6 204.4,286.0 C206.4,289.4 208.0,292.9 209.1,296.7 C210.2,300.4 210.7,306.3 210.9,308.5 C211.1,310.8 210.4,308.6 210.3,310.0 C210.2,311.4 210.9,314.5 210.3,317.1 C209.7,319.7 208.3,322.9 206.8,325.4 C205.2,328.0 203.2,330.2 200.8,332.5 C198.5,334.9 195.5,337.1 192.5,339.7 C189.6,342.2 186.4,345.0 183.0,348.0 C179.7,350.9 175.9,354.1 172.4,357.4 C168.8,360.8 165.0,364.8 161.7,368.1 C158.3,371.5 155.2,374.7 152.2,377.6 C149.2,380.6 145.3,384.5 143.9,385.9 L144.3,386.2 C145.7,384.9 149.6,381.2 152.5,378.4 C155.4,375.5 158.6,372.5 162.0,369.3 C165.4,366.1 169.2,362.2 172.8,358.9 C176.4,355.6 180.2,352.4 183.6,349.4 C187.1,346.5 190.4,343.6 193.4,341.0 C196.5,338.3 199.5,336.1 202.0,333.6 C204.5,331.1 206.6,328.7 208.2,326.0 C209.9,323.3 211.3,320.1 212.0,317.4 C212.6,314.7 211.9,311.5 212.0,310.0 C212.1,308.5 212.7,310.8 212.5,308.5 C212.2,306.3 211.6,300.5 210.5,296.7 C209.3,292.9 207.5,289.3 205.4,285.9 C203.4,282.4 201.0,279.0 198.2,276.1 C195.4,273.2 191.8,270.8 188.7,268.5 C185.5,266.2 182.1,263.8 179.2,262.1 C176.2,260.5 173.7,259.2 171.0,258.5 C168.3,257.7 164.2,257.7 162.9,257.5 Z" fill="#909090"/>
<path d="M162.7,257.7 C164.0,257.9 168.1,257.9 170.9,258.7 C173.6,259.5 176.1,260.7 179.0,262.3 C182.0,264.0 185.4,266.4 188.5,268.7 C191.7,271.0 195.2,273.3 198.0,276.1 C200.8,279.0 203.2,282.5 205.3,285.9 C207.3,289.3 209.1,292.9 210.3,296.7 C211.4,300.5 212.0,306.3 212.2,308.5 C212.5,310.8 211.8,308.5 211.8,310.0 C211.7,311.5 212.3,314.7 211.7,317.4 C211.1,320.0 209.7,323.2 208.0,325.9 C206.4,328.6 204.3,330.9 201.8,333.4 C199.4,335.9 196.3,338.1 193.3,340.8 C190.2,343.4 187.0,346.2 183.5,349.2 C180.1,352.2 176.3,355.4 172.7,358.7 C169.1,362.0 165.3,365.9 161.9,369.1 C158.6,372.4 155.4,375.4 152.4,378.2 C149.5,381.1 145.6,384.8 144.3,386.2 L144.8,386.5 C146.1,385.3 149.9,381.8 152.8,379.1 C155.7,376.4 158.9,373.6 162.3,370.5 C165.7,367.4 169.6,363.7 173.3,360.4 C176.9,357.2 180.7,353.9 184.2,350.9 C187.7,347.9 191.1,345.0 194.3,342.3 C197.5,339.6 200.6,337.2 203.2,334.6 C205.8,332.0 208.0,329.4 209.7,326.6 C211.5,323.8 212.9,320.5 213.6,317.7 C214.2,314.9 213.7,311.5 213.7,310.0 C213.8,308.5 214.3,310.8 214.0,308.5 C213.7,306.3 213.1,300.5 211.8,296.7 C210.5,292.9 208.6,289.2 206.5,285.7 C204.3,282.2 201.9,278.6 199.1,275.6 C196.2,272.6 192.7,270.1 189.6,267.6 C186.4,265.2 183.0,262.6 180.1,260.8 C177.2,259.0 174.7,257.7 172.1,257.0 C169.4,256.3 165.4,256.5 164.1,256.4 Z" fill="#A3A3A3"/>
<path d="M163.9,256.5 C165.2,256.7 169.2,256.5 171.9,257.2 C174.6,258.0 177.0,259.3 179.9,261.0 C182.8,262.8 186.3,265.3 189.4,267.8 C192.6,270.2 196.1,272.7 198.9,275.7 C201.7,278.7 204.2,282.2 206.3,285.7 C208.4,289.2 210.3,292.9 211.6,296.7 C212.8,300.5 213.5,306.3 213.8,308.5 C214.1,310.8 213.5,308.5 213.5,310.0 C213.4,311.5 214.0,314.9 213.3,317.7 C212.7,320.4 211.2,323.7 209.5,326.5 C207.8,329.3 205.6,331.8 203.0,334.4 C200.5,337.0 197.3,339.4 194.2,342.1 C191.0,344.8 187.6,347.7 184.1,350.7 C180.6,353.7 176.8,356.9 173.2,360.2 C169.5,363.4 165.6,367.2 162.2,370.3 C158.8,373.4 155.7,376.3 152.7,379.0 C149.8,381.7 146.0,385.2 144.7,386.5 L145.2,386.8 C146.5,385.6 150.2,382.4 153.1,379.8 C156.0,377.3 159.1,374.7 162.6,371.7 C166.0,368.7 170.0,365.1 173.7,361.9 C177.4,358.7 181.2,355.4 184.8,352.4 C188.4,349.4 191.9,346.5 195.2,343.7 C198.5,340.9 201.7,338.4 204.4,335.7 C207.1,332.9 209.4,330.1 211.2,327.2 C213.0,324.3 214.5,320.9 215.2,318.0 C215.9,315.1 215.4,311.6 215.4,310.0 C215.5,308.4 216.0,310.8 215.6,308.5 C215.2,306.3 214.5,300.5 213.1,296.7 C211.8,292.9 209.7,289.1 207.5,285.6 C205.3,282.0 202.8,278.3 199.9,275.2 C197.1,272.0 193.6,269.4 190.5,266.7 C187.3,264.1 183.9,261.3 181.0,259.5 C178.1,257.6 175.7,256.3 173.1,255.6 C170.5,254.8 166.6,255.2 165.2,255.2 Z" fill="#B6B6B6"/>
<path d="M165.1,255.4 C166.4,255.4 170.3,255.1 172.9,255.8 C175.6,256.5 177.9,257.8 180.8,259.7 C183.7,261.5 187.1,264.3 190.3,266.9 C193.5,269.5 197.0,272.1 199.8,275.3 C202.6,278.4 205.1,282.0 207.3,285.6 C209.5,289.2 211.6,292.9 212.9,296.7 C214.3,300.5 215.0,306.3 215.3,308.5 C215.7,310.8 215.2,308.4 215.2,310.0 C215.1,311.6 215.7,315.1 215.0,318.0 C214.3,320.8 212.8,324.2 211.0,327.1 C209.2,330.0 206.9,332.8 204.2,335.5 C201.5,338.2 198.3,340.7 195.1,343.4 C191.8,346.2 188.3,349.1 184.7,352.2 C181.1,355.2 177.3,358.4 173.6,361.7 C169.9,364.9 166.0,368.5 162.5,371.5 C159.1,374.5 155.9,377.2 153.0,379.7 C150.1,382.3 146.5,385.6 145.2,386.8 L145.7,387.1 C147.0,386.0 150.5,383.0 153.4,380.6 C156.2,378.2 159.4,375.7 162.9,372.9 C166.3,370.0 170.4,366.5 174.1,363.4 C177.9,360.2 181.8,357.0 185.4,353.9 C189.1,350.8 192.7,347.9 196.1,345.0 C199.4,342.1 202.8,339.6 205.6,336.7 C208.3,333.8 210.8,330.9 212.7,327.8 C214.6,324.7 216.1,321.3 216.8,318.3 C217.6,315.3 217.1,311.6 217.1,310.0 C217.2,308.4 217.6,310.8 217.1,308.5 C216.7,306.3 215.9,300.5 214.5,296.7 C213.0,292.8 210.8,289.1 208.5,285.4 C206.3,281.8 203.7,278.0 200.8,274.7 C198.0,271.5 194.5,268.6 191.3,265.8 C188.2,263.1 184.7,260.1 181.9,258.1 C179.0,256.2 176.7,254.8 174.1,254.1 C171.6,253.4 167.7,254.0 166.4,254.0 Z" fill="#C8C8C8"/>
<path d="M166.2,254.2 C167.5,254.2 171.4,253.6 174.0,254.3 C176.6,255.0 178.8,256.4 181.7,258.3 C184.6,260.3 188.0,263.2 191.2,266.0 C194.4,268.7 197.8,271.6 200.7,274.8 C203.6,278.1 206.1,281.8 208.4,285.4 C210.6,289.1 212.8,292.8 214.3,296.7 C215.7,300.5 216.5,306.3 216.9,308.5 C217.3,310.8 216.9,308.4 216.9,310.0 C216.8,311.6 217.3,315.3 216.6,318.3 C215.8,321.2 214.3,324.7 212.5,327.7 C210.6,330.7 208.1,333.7 205.4,336.5 C202.6,339.4 199.3,341.9 195.9,344.8 C192.6,347.6 189.0,350.6 185.3,353.7 C181.7,356.7 177.8,360.0 174.1,363.1 C170.3,366.3 166.3,369.8 162.8,372.7 C159.4,375.6 156.2,378.1 153.3,380.5 C150.5,382.9 146.9,386.0 145.6,387.1 L146.1,387.4 C147.4,386.4 150.8,383.5 153.7,381.3 C156.5,379.1 159.7,376.8 163.2,374.1 C166.7,371.3 170.8,368.0 174.6,364.9 C178.4,361.7 182.3,358.5 186.0,355.4 C189.7,352.3 193.5,349.3 197.0,346.3 C200.4,343.4 203.9,340.7 206.8,337.7 C209.6,334.7 212.2,331.6 214.2,328.4 C216.1,325.2 217.7,321.7 218.5,318.6 C219.3,315.5 218.8,311.7 218.8,310.0 C218.9,308.3 219.2,310.8 218.7,308.5 C218.2,306.3 217.3,300.6 215.8,296.7 C214.3,292.8 211.9,289.0 209.6,285.3 C207.2,281.5 204.6,277.7 201.7,274.3 C198.8,270.9 195.4,267.9 192.2,265.0 C189.1,262.0 185.6,258.8 182.7,256.8 C179.9,254.7 177.7,253.3 175.2,252.6 C172.7,252.0 168.9,252.8 167.6,252.8 Z" fill="#DADADA"/>
<path d="M167.4,253.0 C168.7,253.0 172.5,252.2 175.0,252.9 C177.5,253.5 179.8,255.0 182.6,257.0 C185.4,259.0 188.9,262.2 192.1,265.1 C195.3,268.0 198.7,271.0 201.6,274.4 C204.5,277.7 207.1,281.6 209.4,285.3 C211.7,289.0 214.1,292.8 215.6,296.7 C217.1,300.6 218.0,306.3 218.4,308.5 C218.9,310.8 218.6,308.3 218.6,310.0 C218.5,311.7 219.0,315.5 218.2,318.6 C217.4,321.6 215.9,325.1 213.9,328.3 C212.0,331.5 209.4,334.6 206.6,337.6 C203.7,340.5 200.3,343.2 196.8,346.1 C193.4,349.0 189.6,352.1 185.9,355.1 C182.2,358.2 178.3,361.5 174.5,364.6 C170.7,367.7 166.6,371.1 163.1,373.9 C159.6,376.6 156.5,379.0 153.6,381.2 C150.8,383.5 147.3,386.3 146.0,387.4 L146.6,387.7 C147.8,386.8 151.2,384.1 154.0,382.1 C156.8,380.0 160.0,377.9 163.5,375.2 C167.0,372.6 171.2,369.4 175.0,366.3 C178.9,363.3 182.8,360.0 186.6,356.9 C190.4,353.7 194.3,350.7 197.9,347.7 C201.4,344.6 205.0,341.9 207.9,338.8 C210.9,335.7 213.6,332.3 215.7,329.0 C217.7,325.7 219.3,322.1 220.1,318.9 C220.9,315.7 220.5,311.7 220.6,310.0 C220.6,308.3 220.8,310.8 220.3,308.5 C219.7,306.3 218.7,300.6 217.1,296.7 C215.5,292.8 213.0,288.9 210.6,285.1 C208.2,281.3 205.5,277.4 202.6,273.8 C199.7,270.3 196.3,267.1 193.1,264.1 C190.0,261.0 186.4,257.6 183.6,255.5 C180.8,253.3 178.7,251.8 176.2,251.2 C173.7,250.5 170.0,251.5 168.8,251.6 Z" fill="#E3E3E3"/>
<path d="M168.6,251.8 C169.9,251.7 173.6,250.8 176.0,251.4 C178.5,252.1 180.7,253.5 183.5,255.7 C186.3,257.8 189.8,261.2 193.0,264.2 C196.1,267.2 199.6,270.4 202.5,273.9 C205.4,277.4 208.0,281.3 210.5,285.1 C212.9,288.9 215.3,292.8 216.9,296.7 C218.5,300.6 219.4,306.3 220.0,308.5 C220.6,310.8 220.3,308.3 220.3,310.0 C220.3,311.7 220.7,315.7 219.8,318.8 C219.0,322.0 217.4,325.6 215.4,328.9 C213.4,332.2 210.7,335.5 207.8,338.6 C204.8,341.7 201.3,344.4 197.7,347.4 C194.2,350.5 190.3,353.5 186.5,356.6 C182.7,359.7 178.8,363.0 175.0,366.1 C171.1,369.2 166.9,372.4 163.4,375.1 C159.9,377.7 156.7,379.8 153.9,381.9 C151.1,384.0 147.7,386.7 146.5,387.7 L147.0,388.0 C148.2,387.1 151.5,384.7 154.3,382.8 C157.1,380.9 160.2,378.9 163.8,376.4 C167.3,373.9 171.6,370.8 175.5,367.8 C179.4,364.8 183.3,361.5 187.2,358.3 C191.1,355.2 195.1,352.1 198.8,349.0 C202.4,345.9 206.1,343.0 209.1,339.8 C212.2,336.6 215.0,333.0 217.1,329.6 C219.2,326.1 220.9,322.5 221.7,319.2 C222.6,315.9 222.2,311.8 222.3,310.0 C222.3,308.2 222.4,310.8 221.8,308.5 C221.2,306.3 220.2,300.6 218.5,296.7 C216.8,292.8 214.2,288.9 211.7,285.0 C209.2,281.1 206.4,277.0 203.5,273.4 C200.6,269.8 197.2,266.4 194.0,263.2 C190.8,260.0 187.3,256.4 184.5,254.1 C181.7,251.9 179.7,250.4 177.3,249.7 C174.8,249.1 171.2,250.3 170.0,250.4 Z" fill="#E7E7E7"/>
<path d="M169.8,250.6 C171.0,250.5 174.7,249.3 177.1,250.0 C179.5,250.6 181.6,252.1 184.4,254.3 C187.2,256.6 190.7,260.1 193.9,263.3 C197.0,266.5 200.4,269.9 203.4,273.5 C206.3,277.1 209.0,281.1 211.5,285.0 C214.0,288.9 216.6,292.8 218.3,296.7 C219.9,300.6 220.9,306.3 221.6,308.5 C222.2,310.8 222.0,308.2 222.0,310.0 C222.0,311.8 222.3,315.9 221.5,319.1 C220.6,322.4 219.0,326.1 216.9,329.5 C214.8,332.9 212.0,336.4 208.9,339.6 C205.9,342.9 202.3,345.7 198.6,348.8 C195.0,351.9 191.0,355.0 187.1,358.1 C183.2,361.2 179.3,364.6 175.4,367.6 C171.5,370.6 167.2,373.7 163.7,376.2 C160.2,378.8 157.0,380.7 154.2,382.7 C151.4,384.6 148.1,387.1 146.9,387.9 L147.4,388.3 C148.6,387.5 151.8,385.3 154.6,383.5 C157.3,381.8 160.5,380.0 164.1,377.6 C167.6,375.2 172.0,372.3 175.9,369.3 C179.9,366.3 183.8,363.0 187.8,359.8 C191.7,356.7 195.9,353.5 199.6,350.3 C203.4,347.2 207.2,344.2 210.3,340.8 C213.5,337.5 216.4,333.7 218.6,330.2 C220.8,326.6 222.5,322.9 223.4,319.5 C224.3,316.1 224.0,311.8 224.0,310.0 C224.0,308.2 224.1,310.8 223.4,308.5 C222.7,306.3 221.6,300.6 219.8,296.7 C218.0,292.7 215.3,288.8 212.7,284.8 C210.1,280.9 207.4,276.7 204.4,273.0 C201.4,269.2 198.1,265.6 194.9,262.3 C191.7,258.9 188.2,255.1 185.4,252.8 C182.6,250.5 180.7,248.9 178.3,248.3 C175.9,247.7 172.4,249.1 171.2,249.2 Z" fill="#CACACA"/>
<path d="M171.2,249.2 C172.4,249.1 175.9,247.7 178.3,248.3 C180.7,248.9 182.6,250.5 185.4,252.8 C188.2,255.1 191.7,258.9 194.9,262.3 C198.1,265.6 202.8,271.2 204.4,273.0 L197.3,276.5 C195.7,275.3 190.9,271.6 187.8,269.4 C184.6,267.2 181.3,265.1 178.3,263.5 C175.3,261.9 172.8,260.7 170.0,259.9 C167.2,259.1 163.1,258.9 161.7,258.7 Z" fill="url(#bg3)"/>
<polygon points="194.9,267.0 198.5,268.2 198.5,272.4 195.5,271.8" fill="#333"/>
<path d="M144.1,385.0 C142.7,386.8 138.5,391.9 135.8,395.7 C133.0,399.4 130.0,403.4 127.4,407.5 C124.9,411.7 121.5,418.4 120.3,420.6 L129.2,422.4 C129.5,421.3 129.9,418.7 131.0,415.8 C132.1,413.0 133.6,408.9 135.8,405.2 C137.9,401.4 141.5,396.5 144.1,393.3 C146.6,390.1 150.0,387.4 151.2,386.2 Z" fill="url(#bg4)"/>
<polygon points="154.1,406.4 190.3,408.1 190.3,411.7 154.7,409.9" fill="#DE7808"/>
<circle cx="161.9" cy="405.6" r="1.2" fill="#FFA820"/>
<circle cx="174.3" cy="406.4" r="1.2" fill="#FFA820"/>
<polygon points="141.7,392.7 158.3,394.5 153.5,407.5 140.5,413.5 134.0,404.0" fill="#E87C08"/>
<polygon points="141.7,392.7 151.2,399.2 134.0,404.0" fill="#F88C0C"/>
<polygon points="151.2,399.2 153.5,407.5 140.5,413.5 146.4,404.0" fill="#D06C06"/>
<polyline points="152.6,400.7 157.1,395.4" fill="none" stroke="#FFB030" stroke-width="2.4" stroke-linecap="round" stroke-linejoin="round"/>
<path d="M120.3,420.6 C119.9,422.2 118.7,426.9 118.0,430.1 C117.3,433.2 116.8,436.4 116.2,439.6 C115.6,442.7 115.3,446.3 114.4,449.1 C113.5,451.8 112.6,453.6 110.8,456.2 C109.1,458.7 104.3,464.1 103.7,464.5 C103.1,464.8 107.7,457.8 107.3,458.3 C106.9,458.9 102.9,464.2 101.4,467.8 C99.8,471.4 98.6,475.7 97.8,479.7 C97.0,483.6 96.6,487.6 96.6,491.5 C96.6,495.5 97.4,500.0 97.8,503.4 C98.2,506.7 98.8,510.3 99.0,511.7 L106.7,510.5 C106.3,509.1 105.0,505.2 104.3,502.2 C103.6,499.2 102.7,496.1 102.5,492.7 C102.3,489.3 102.4,485.6 103.1,482.0 C103.8,478.5 105.2,474.7 106.7,471.4 C108.2,468.0 111.3,462.8 112.0,461.9 C112.7,460.9 110.4,466.2 110.8,465.7 C111.2,465.1 113.2,460.9 114.4,458.5 C115.6,456.2 116.6,454.4 118.0,451.4 C119.3,448.5 121.3,443.9 122.7,440.8 C124.1,437.6 125.2,435.5 126.3,432.4 C127.4,429.4 128.7,424.0 129.2,422.4 Z" fill="#0EC80E"/>
<path d="M103.7,464.5 C104.3,463.4 107.7,457.8 107.3,458.3 C106.9,458.9 102.9,464.2 101.4,467.8 C99.8,471.4 98.6,475.7 97.8,479.7 C97.0,483.6 96.6,487.6 96.6,491.5 C96.6,495.5 97.4,500.0 97.8,503.4 C98.2,506.7 98.8,510.3 99.0,511.7 L106.7,510.5 C106.3,509.1 105.0,505.2 104.3,502.2 C103.6,499.2 102.7,496.1 102.5,492.7 C102.3,489.3 102.4,485.6 103.1,482.0 C103.8,478.5 105.2,474.7 106.7,471.4 C108.2,468.0 111.3,462.8 112.0,461.9 C112.7,460.9 111.0,465.0 110.8,465.7 Z" fill="url(#bg5)"/>
<polygon points="129.2,422.4 126.3,432.4 122.7,440.8 118.2,450.8 120.3,440.8 123.3,432.4 125.7,422.0" fill="#087808"/>
<polygon points="114.4,458.5 110.8,465.7 107.9,468.0 111.8,460.9" fill="#0A9A0A"/>
<polygon points="127.4,430.1 138.1,429.5 131.0,436.0" fill="#087808"/>
<polyline points="131.0,436.0 135.8,437.8" fill="none" stroke="#087808" stroke-width="2.4" stroke-linecap="round" stroke-linejoin="round"/>
<polyline points="103.7,443.7 109.7,440.2 115.6,440.2" fill="none" stroke="#10E410" stroke-width="3.5999999999999996" stroke-linecap="round" stroke-linejoin="round"/>
<polygon points="135.8,436.6 159.5,426.5 161.9,428.9 138.1,439.6" fill="#10D810"/>
<polygon points="135.2,439.6 161.9,428.9 161.9,440.8 137.5,451.4 135.2,449.1" fill="#0A940A"/>
<polygon points="180.8,411.3 191.5,417.6 202.2,422.4 210.5,423.2 217.6,424.7 210.5,420.6 201.0,416.1 190.3,410.9" fill="#034403"/>
<polygon points="180.8,410.5 190.3,410.5 201.0,415.6 210.5,420.3 217.6,424.1 216.4,425.1 209.3,422.0 199.8,417.6 190.3,412.5 180.8,411.7" fill="#10E410"/>
<circle cx="192.7" cy="417.3" r="1.1" fill="#0CB80C"/>
<polygon points="213.5,426.5 217.6,425.3 221.8,445.5 214.0,458.5 206.9,470.1 203.4,470.1 209.3,456.2 211.7,441.9" fill="#10E410"/>
<polygon points="217.6,424.1 228.3,425.3 233.0,437.2 221.8,445.5 213.5,440.8" fill="#10E410"/>
<polygon points="218.2,439.6 225.9,436.0 233.0,437.2 221.8,445.5" fill="#0AA80A"/>
<polyline points="217.6,425.9 215.8,437.2 219.4,439.0" fill="none" stroke="#70F870" stroke-width="1.2" stroke-linecap="round" stroke-linejoin="round"/>
<polyline points="115.6,452.4 119.1,461.9" fill="none" stroke="#10E410" stroke-width="2.88" stroke-linecap="round" stroke-linejoin="round"/>
<polyline points="128.6,467.8 138.7,463.0 144.7,469.0" fill="none" stroke="#10E410" stroke-width="2.88" stroke-linecap="round" stroke-linejoin="round"/>
<circle cx="131.2" cy="470.4" r="1.2" fill="#10E410"/>
<polyline points="103.7,474.3 108.5,474.3" fill="none" stroke="#10E410" stroke-width="2.64" stroke-linecap="round" stroke-linejoin="round"/>
<polygon points="102.5,488.0 109.7,473.7 118.0,483.8 123.9,485.6 113.8,492.1" fill="#0CB00C"/>
<polygon points="119.1,461.9 128.6,465.4 129.2,480.8 118.0,483.8 109.7,472.5" fill="#10E410"/>
<polygon points="119.1,461.9 128.6,465.4 121.5,471.4" fill="#0CC00C"/>
<polyline points="109.7,472.5 101.9,489.1" fill="none" stroke="#50F050" stroke-width="1.44" stroke-linecap="round" stroke-linejoin="round"/>
<polygon points="129.8,481.4 151.2,469.6 153.0,472.5 131.0,484.4" fill="#48F048"/>
<polygon points="127.4,485.6 153.0,472.5 153.0,478.5 131.0,489.7 127.4,489.1" fill="#0A8A0A"/>
<polyline points="128.6,482.0 129.8,489.1" fill="none" stroke="#0CB80C" stroke-width="2.4" stroke-linecap="round" stroke-linejoin="round"/>
<polygon points="127.4,519.4 160.7,498.0 180.8,478.5 184.4,479.7 167.8,498.0 161.9,501.0 129.8,522.4" fill="#087008"/>
<polygon points="125.1,516.4 158.3,495.7 160.7,498.0 127.4,519.4" fill="#58F458"/>
<polygon points="158.3,495.7 178.5,476.7 180.8,478.5 160.7,498.0" fill="#10E410"/>
<circle cx="173.7" cy="488.0" r="1.0" fill="#10E410"/>
<polygon points="131.0,490.9 155.9,504.6 148.2,517.0 122.7,501.6" fill="#0C9C0C"/>
<polygon points="131.0,490.9 155.9,504.6 154.7,506.3 129.8,492.7" fill="#10E410"/>
<polyline points="171.9,472.5 177.9,474.9" fill="none" stroke="#10E410" stroke-width="3.5999999999999996" stroke-linecap="round" stroke-linejoin="round"/>
<polyline points="195.7,464.8 204.0,467.8" fill="none" stroke="#10E410" stroke-width="2.88" stroke-linecap="round" stroke-linejoin="round"/>
<polygon points="187.9,461.3 195.7,464.2 193.9,479.7 179.6,476.7 177.3,469.6" fill="#10E410"/>
<polygon points="180.8,474.9 194.5,465.4 192.7,476.7" fill="#C4FFC4"/>
<polygon points="209.3,450.0 220.0,450.0 210.5,461.9 204.6,471.4 199.8,486.8 195.1,480.8 203.4,466.6 207.5,457.1" fill="#10E410"/>
<polygon points="204.6,471.4 199.8,486.8 195.1,480.8 198.6,473.7" fill="#0AA80A"/>
<path d="M195.1,480.8 C194.1,482.8 190.9,488.8 189.1,492.7 C187.4,496.7 185.8,500.6 184.4,504.6 C183.0,508.5 181.8,513.3 180.8,516.4 C179.8,519.6 178.9,522.4 178.5,523.5 L188.5,527.7 C188.8,526.6 189.4,524.2 190.3,521.2 C191.2,518.1 192.7,513.3 193.9,509.3 C195.1,505.4 196.4,501.4 197.4,497.4 C198.4,493.5 199.4,487.6 199.8,485.6 Z" fill="url(#bg6)"/>
<polygon points="157.1,522.4 163.0,521.2 178.5,520.0 163.0,530.7 151.2,535.1 158.3,530.7" fill="#DC0000"/>
<polygon points="163.0,502.2 171.3,504.0 178.5,516.4 170.2,521.2 160.7,514.7" fill="#F40000"/>
<polygon points="163.0,502.2 171.3,504.0 167.8,511.7 160.7,514.7" fill="#D40000"/>
<polyline points="171.3,504.0 183.2,504.0" fill="none" stroke="#F00000" stroke-width="2.64" stroke-linecap="round" stroke-linejoin="round"/>
<polyline points="174.9,506.9 178.5,518.8" fill="none" stroke="#F00000" stroke-width="2.64" stroke-linecap="round" stroke-linejoin="round"/>
<polyline points="157.7,523.0 158.9,527.1" fill="none" stroke="#F00000" stroke-width="2.64" stroke-linecap="round" stroke-linejoin="round"/>
<polyline points="93.0,504.6 102.5,506.9" fill="none" stroke="#10E410" stroke-width="3.5999999999999996" stroke-linecap="round" stroke-linejoin="round"/>
<polyline points="115.6,518.8 125.1,517.6" fill="none" stroke="#10E410" stroke-width="2.88" stroke-linecap="round" stroke-linejoin="round"/>
<polygon points="105.5,531.4 115.6,525.4 122.1,532.5 115.6,542.6" fill="#0A9A0A"/>
<polygon points="100.2,511.7 108.5,512.3 115.6,518.8 110.8,528.9 97.8,530.7 95.4,517.6" fill="#10E410"/>
<path d="M122.1,532.5 C123.6,533.5 127.7,536.5 131.0,538.5 C134.3,540.4 138.0,542.6 141.7,544.4 C145.3,546.2 151.1,548.4 153.0,549.1 L148.8,560.4 C146.6,559.7 139.7,557.9 135.8,556.3 C131.8,554.6 128.4,552.6 125.1,550.3 C121.7,548.1 117.2,543.9 115.6,542.6 Z" fill="url(#bg7)"/>
<polygon points="157.1,521.9 163.0,510.0 178.5,510.0 174.9,519.5 160.7,530.2" fill="#EC0000"/>
<polygon points="136.9,550.3 146.4,539.7 157.1,531.4 174.9,519.5 177.3,521.3 160.7,533.7 151.2,542.0 141.7,551.5" fill="#B00000"/>
<polyline points="136.9,549.7 146.4,539.2 157.1,530.9 174.9,519.0" fill="none" stroke="#FF2020" stroke-width="1.2" stroke-linecap="round" stroke-linejoin="round"/>
<circle cx="146.4" cy="538.5" r="1.0" fill="#FF3030"/>
<circle cx="152.6" cy="533.7" r="1.0" fill="#FF3030"/>
<polygon points="115.6,553.9 127.4,557.4 129.2,564.0 120.3,562.2 115.6,557.4" fill="#800000"/>
<polyline points="103.1,561.6 115.6,552.7 113.2,550.3 115.6,542.0" fill="none" stroke="#FF2020" stroke-width="2.4" stroke-linecap="round" stroke-linejoin="round"/>
<polyline points="115.6,552.7 127.4,557.4 136.9,550.3" fill="none" stroke="#FF2020" stroke-width="2.4" stroke-linecap="round" stroke-linejoin="round"/>
<polyline points="125.1,555.1 129.8,549.1" fill="none" stroke="#FF2020" stroke-width="2.4" stroke-linecap="round" stroke-linejoin="round"/>
<path d="M153.0,549.1 C154.2,549.3 157.8,549.5 160.7,550.3 C163.5,551.1 167.8,553.0 170.2,553.9 C172.5,554.8 174.1,555.4 174.9,555.7 L173.7,571.7 C172.7,571.3 170.7,570.7 167.8,569.3 C164.8,567.9 159.1,564.9 155.9,563.4 C152.8,561.9 150.0,560.9 148.8,560.4 Z" fill="#8C8C8C"/>
<polygon points="155.9,550.3 160.7,549.7 167.8,566.9 163.0,569.3 155.9,559.8" fill="#8A8A8A"/>
<polyline points="161.9,555.1 171.3,552.1" fill="none" stroke="#8C8C8C" stroke-width="2.76" stroke-linecap="round" stroke-linejoin="round"/>
<polyline points="161.9,555.1 171.3,552.1" fill="none" stroke="#DADADA" stroke-width="1.8599999999999999" stroke-linecap="round" stroke-linejoin="round"/>
<polyline points="139.9,581.2 139.3,574.7 148.8,568.1 155.9,571.7" fill="none" stroke="#8C8C8C" stroke-width="3.0" stroke-linecap="round" stroke-linejoin="round"/>
<polyline points="139.9,581.2 139.3,574.7 148.8,568.1 155.9,571.7" fill="none" stroke="#DADADA" stroke-width="2.1" stroke-linecap="round" stroke-linejoin="round"/>
<polyline points="140.1,581.2 139.7,574.9 149.0,568.6" fill="none" stroke="#8E8E8E" stroke-width="0.84" stroke-linecap="round" stroke-linejoin="round"/>
<polyline points="149.4,578.2 155.9,577.6 163.0,571.7" fill="none" stroke="#8C8C8C" stroke-width="3.0" stroke-linecap="round" stroke-linejoin="round"/>
<polyline points="149.4,578.2 155.9,577.6 163.0,571.7" fill="none" stroke="#DADADA" stroke-width="2.1" stroke-linecap="round" stroke-linejoin="round"/>
<polyline points="163.0,576.4 164.5,578.8" fill="none" stroke="#666666" stroke-width="2.4" stroke-linecap="round" stroke-linejoin="round"/>
<polygon points="156.3,594.4 158.6,593.8 163.4,599.1 164.0,609.8 161.0,613.4 155.1,603.9" fill="#8A8A8A"/>
<polyline points="155.7,603.3 163.4,601.5" fill="none" stroke="#8C8C8C" stroke-width="2.52" stroke-linecap="round" stroke-linejoin="round"/>
<polyline points="155.7,603.3 163.4,601.5" fill="none" stroke="#DADADA" stroke-width="1.62" stroke-linecap="round" stroke-linejoin="round"/>
<polyline points="146.8,615.8 154.5,619.3 161.6,615.2" fill="none" stroke="#8C8C8C" stroke-width="3.0" stroke-linecap="round" stroke-linejoin="round"/>
<polyline points="146.8,615.8 154.5,619.3 161.6,615.2" fill="none" stroke="#DADADA" stroke-width="2.1" stroke-linecap="round" stroke-linejoin="round"/>
<polyline points="147.0,616.2 154.5,619.8 161.6,615.6" fill="none" stroke="#8E8E8E" stroke-width="0.84" stroke-linecap="round" stroke-linejoin="round"/>
<polygon points="157.4,643.9 162.2,635.0 164.0,643.3 166.9,654.0 158.6,648.0" fill="#F4F4F4"/>
<polyline points="162.2,635.0 157.4,643.9 158.6,648.0 166.9,654.0" fill="none" stroke="#8C8C8C" stroke-width="2.2800000000000002" stroke-linecap="round" stroke-linejoin="round"/>
<polyline points="162.2,635.0 157.4,643.9 158.6,648.0 166.9,654.0" fill="none" stroke="#DADADA" stroke-width="1.3800000000000001" stroke-linecap="round" stroke-linejoin="round"/>
<polyline points="157.4,643.9 164.0,643.3" fill="none" stroke="#B4B4B4" stroke-width="1.68" stroke-linecap="round" stroke-linejoin="round"/>
<path d="M183.5,560.6 C187.1,561.7 197.4,564.8 204.9,567.1 C212.4,569.4 222.8,572.7 228.6,574.6 C234.4,576.5 235.3,576.4 240.0,578.3 C244.7,580.2 251.1,583.0 256.7,585.8 C262.2,588.6 267.8,591.8 273.3,595.0 C278.9,598.2 284.4,601.7 290.0,605.0 C295.6,608.3 301.6,611.7 306.7,615.0 C311.8,618.3 318.4,623.0 320.8,624.6 L320.0,625.8 C317.3,624.6 309.0,621.4 304.0,618.5 C299.0,615.6 295.1,611.5 290.0,608.3 C284.9,605.1 278.9,601.8 273.3,599.2 C267.8,596.6 262.2,594.9 256.7,592.9 C251.1,590.9 244.7,589.0 240.0,587.5 C235.3,586.0 234.4,585.8 228.6,584.2 C222.8,582.6 212.5,579.9 204.9,577.8 C197.3,575.6 186.7,572.4 183.0,571.3 Z" fill="#6E6E6E"/>
<path d="M183.5,560.6 C187.1,561.7 197.4,564.8 204.9,567.1 C212.4,569.4 222.8,572.7 228.6,574.6 C234.4,576.5 235.3,576.4 240.0,578.3 C244.7,580.2 251.1,583.0 256.7,585.8 C262.2,588.6 267.8,591.8 273.3,595.0 C278.9,598.2 284.4,601.7 290.0,605.0 C295.6,608.3 301.6,611.7 306.7,615.0 C311.8,618.3 318.4,623.0 320.8,624.6 L320.7,624.8 C318.3,623.3 311.4,618.8 306.2,615.6 C301.1,612.4 295.5,608.9 290.0,605.5 C284.5,602.2 278.9,598.8 273.3,595.7 C267.8,592.6 262.2,589.6 256.7,587.0 C251.1,584.3 244.7,581.6 240.0,579.8 C235.3,578.0 234.4,578.0 228.6,576.2 C222.8,574.4 212.4,571.2 204.9,568.9 C197.4,566.6 187.0,563.5 183.4,562.4 Z" fill="#B9B9B9"/>
<path d="M183.4,562.2 C187.0,563.3 197.4,566.4 204.9,568.7 C212.4,571.0 222.8,574.2 228.6,576.0 C234.4,577.8 235.3,577.8 240.0,579.6 C244.7,581.5 251.1,584.2 256.7,586.8 C262.2,589.5 267.8,592.5 273.3,595.6 C278.9,598.7 284.5,602.2 290.0,605.5 C295.5,608.8 301.2,612.3 306.3,615.5 C311.4,618.7 318.3,623.2 320.7,624.8 L320.5,625.0 C318.1,623.5 310.9,619.3 305.8,616.2 C300.7,613.0 295.4,609.4 290.0,606.1 C284.6,602.8 278.9,599.4 273.3,596.4 C267.8,593.4 262.2,590.7 256.7,588.2 C251.1,585.7 244.7,583.1 240.0,581.4 C235.3,579.6 234.4,579.6 228.6,577.8 C222.8,576.0 212.4,572.9 204.9,570.7 C197.4,568.4 186.9,565.2 183.3,564.2 Z" fill="#929292"/>
<path d="M183.3,564.0 C186.9,565.0 197.4,568.2 204.9,570.5 C212.4,572.7 222.8,575.8 228.6,577.6 C234.4,579.4 235.3,579.4 240.0,581.2 C244.7,582.9 251.1,585.5 256.7,588.0 C262.2,590.5 267.8,593.3 273.3,596.3 C278.9,599.3 284.6,602.7 290.0,606.0 C295.4,609.3 300.8,612.9 305.9,616.1 C310.9,619.3 318.1,623.5 320.5,625.0 L320.4,625.2 C317.9,623.8 310.4,619.8 305.4,616.8 C300.3,613.7 295.3,609.9 290.0,606.6 C284.7,603.4 278.9,600.0 273.3,597.1 C267.8,594.2 262.2,591.7 256.7,589.3 C251.1,587.0 244.7,584.6 240.0,582.9 C235.3,581.2 234.4,581.1 228.6,579.4 C222.8,577.7 212.5,574.7 204.9,572.5 C197.3,570.2 186.9,567.0 183.2,566.0 Z" fill="#7A7A7A"/>
<path d="M183.3,565.7 C186.9,566.8 197.3,570.0 204.9,572.2 C212.5,574.5 222.8,577.5 228.6,579.2 C234.4,581.0 235.3,581.0 240.0,582.7 C244.7,584.4 251.1,586.8 256.7,589.2 C262.2,591.6 267.8,594.1 273.3,597.0 C278.9,599.9 284.6,603.3 290.0,606.6 C295.4,609.9 300.3,613.6 305.4,616.7 C310.5,619.8 317.9,623.8 320.4,625.2 L320.3,625.4 C317.7,624.1 309.9,620.4 304.9,617.3 C299.9,614.3 295.3,610.5 290.0,607.2 C284.7,603.9 278.9,600.6 273.3,597.8 C267.8,595.0 262.2,592.8 256.7,590.5 C251.1,588.3 244.7,586.0 240.0,584.4 C235.3,582.8 234.4,582.7 228.6,581.0 C222.8,579.3 212.5,576.4 204.9,574.2 C197.3,572.0 186.8,568.8 183.2,567.7 Z" fill="#6A6A6A"/>
<path d="M183.2,567.5 C186.8,568.6 197.3,571.8 204.9,574.0 C212.5,576.2 222.8,579.1 228.6,580.8 C234.4,582.5 235.3,582.7 240.0,584.2 C244.7,585.8 251.1,588.1 256.7,590.4 C262.2,592.6 267.8,594.9 273.3,597.7 C278.9,600.5 284.7,603.9 290.0,607.1 C295.3,610.4 299.9,614.2 305.0,617.3 C310.0,620.3 317.7,624.0 320.3,625.4 L320.1,625.6 C317.5,624.3 309.5,620.9 304.4,617.9 C299.4,614.9 295.2,611.0 290.0,607.8 C284.8,604.5 278.9,601.2 273.3,598.5 C267.8,595.8 262.2,593.8 256.7,591.7 C251.1,589.6 244.7,587.5 240.0,586.0 C235.3,584.4 234.4,584.3 228.6,582.6 C222.8,580.9 212.5,578.2 204.9,576.0 C197.3,573.8 186.7,570.6 183.1,569.5 Z" fill="#616161"/>
<path d="M183.1,569.3 C186.7,570.4 197.3,573.6 204.9,575.8 C212.5,578.0 222.8,580.7 228.6,582.4 C234.4,584.1 235.3,584.3 240.0,585.8 C244.7,587.3 251.1,589.5 256.7,591.6 C262.2,593.7 267.8,595.7 273.3,598.4 C278.9,601.1 284.8,604.4 290.0,607.7 C295.2,610.9 299.5,614.9 304.5,617.8 C309.5,620.8 317.5,624.3 320.1,625.6 L320.0,625.8 C317.3,624.6 309.0,621.4 304.0,618.5 C299.0,615.6 295.1,611.5 290.0,608.3 C284.9,605.1 278.9,601.8 273.3,599.2 C267.8,596.6 262.2,594.9 256.7,592.9 C251.1,590.9 244.7,589.0 240.0,587.5 C235.3,586.0 234.4,585.8 228.6,584.2 C222.8,582.6 212.5,579.9 204.9,577.8 C197.3,575.6 186.7,572.4 183.0,571.3 Z" fill="#585858"/>
<path d="M273.3,595.0 C276.1,596.7 284.4,601.7 290.0,605.0 C295.6,608.3 301.6,611.7 306.7,615.0 C311.8,618.3 318.4,623.0 320.8,624.6 L320.0,625.8 C317.3,624.6 309.0,621.4 304.0,618.5 C299.0,615.6 295.1,611.5 290.0,608.3 C284.9,605.1 276.1,600.7 273.3,599.2 Z" fill="url(#bg8)"/>
<path d="M256.7,586.0 C259.5,587.5 267.8,592.0 273.3,595.2 C278.9,598.4 284.4,601.9 290.0,605.2 C295.6,608.5 301.6,611.9 306.7,615.2 C311.8,618.5 318.4,623.2 320.8,624.8" fill="none" stroke="#4A4A4A" stroke-width="0.7" stroke-linecap="round"/>
<polygon points="190.7,581.9 199.0,575.4 204.9,582.5 212.0,579.0 216.8,581.4 207.3,588.5 193.0,589.1" fill="#999"/>
<polyline points="181.2,585.5 190.7,581.9 193.0,585.5" fill="none" stroke="#8C8C8C" stroke-width="2.52" stroke-linecap="round" stroke-linejoin="round"/>
<polyline points="181.2,585.5 190.7,581.9 193.0,585.5" fill="none" stroke="#DADADA" stroke-width="1.62" stroke-linecap="round" stroke-linejoin="round"/>
<polygon points="180.0,592.0 204.9,586.1 207.3,588.5 181.2,595.0" fill="#B0B0B0"/>
<polygon points="180.0,594.4 207.3,588.5 207.9,592.0 193.0,595.6" fill="#555"/>
<polyline points="194.2,570.7 199.0,575.4" fill="none" stroke="#8E8E8E" stroke-width="1.92" stroke-linecap="round" stroke-linejoin="round"/>
<polyline points="208.5,580.2 213.2,576.6" fill="none" stroke="#8E8E8E" stroke-width="1.92" stroke-linecap="round" stroke-linejoin="round"/>
<polyline points="237.5,584.9 241.7,590.2" fill="none" stroke="#8E8E8E" stroke-width="2.16" stroke-linecap="round" stroke-linejoin="round"/>
<polyline points="251.2,595.6 254.1,591.4" fill="none" stroke="#666666" stroke-width="2.64" stroke-linecap="round" stroke-linejoin="round"/>
<polygon points="225.7,600.3 232.2,598.0 233.4,601.5" fill="#444"/>
<polygon points="234.0,596.8 241.7,590.2 251.8,599.7 249.4,608.6 235.7,605.1" fill="#A8A8A8"/>
<polygon points="241.7,590.2 251.8,599.7 239.3,599.1" fill="#9A9A9A"/>
<polyline points="228.6,600.9 234.0,596.8 235.7,601.5" fill="none" stroke="#8C8C8C" stroke-width="2.2800000000000002" stroke-linecap="round" stroke-linejoin="round"/>
<polyline points="228.6,600.9 234.0,596.8 235.7,601.5" fill="none" stroke="#DADADA" stroke-width="1.3800000000000001" stroke-linecap="round" stroke-linejoin="round"/>
<polygon points="244.0,604.5 221.5,609.8 177.6,633.5 184.1,634.1 224.5,614.8 243.5,607.7" fill="#B4B4B4"/>
<polygon points="221.5,609.8 213.2,614.0 215.0,618.1 224.5,614.8" fill="#9A9A9A"/>
<polyline points="184.1,634.4 224.5,615.0 243.5,607.9" fill="none" stroke="#666666" stroke-width="1.08" stroke-linecap="round" stroke-linejoin="round"/>
<polygon points="177.6,633.5 183.5,631.2 184.1,632.4" fill="#FFFFFF"/>
<polygon points="204.4,653.8 228.7,638.4 231.1,641.4 205.6,656.8" fill="#FFFFFF" stroke="#BBB" stroke-width="0.5" stroke-linejoin="round"/>
<polygon points="205.6,656.8 231.1,641.9 231.1,646.1 206.8,660.3" fill="#2A2A2A"/>
<circle cx="219.2" cy="651.4" r="0.8" fill="#D2D2D2"/>
<polygon points="233.5,639.6 272.0,621.2 273.2,624.2 234.7,643.1" fill="#FFFFFF" stroke="#BBB" stroke-width="0.5" stroke-linejoin="round"/>
<polygon points="234.7,643.1 273.2,624.7 273.2,626.5 235.8,645.5" fill="#2A2A2A"/>
<polyline points="199.7,665.1 205.6,659.1" fill="none" stroke="#8E8E8E" stroke-width="2.4" stroke-linecap="round" stroke-linejoin="round"/>
<polygon points="187.8,662.1 199.7,664.5 202.6,678.1 194.9,682.3 186.0,667.4" fill="#BCBCBC" stroke="#EEE" stroke-width="0.6" stroke-linejoin="round"/>
<polygon points="200.8,680.5 204.4,681.7 203.8,683.5" fill="#444"/>
<polyline points="276.8,601.9 279.1,606.1" fill="none" stroke="#8E8E8E" stroke-width="1.92" stroke-linecap="round" stroke-linejoin="round"/>
<polygon points="277.9,605.5 292.2,612.0 289.2,623.3 275.6,624.5 271.4,614.4" fill="#ECECEC" stroke="#999" stroke-width="0.6" stroke-linejoin="round"/>
<polygon points="277.9,605.5 288.6,610.8 272.0,613.8" fill="#B0B0B0"/>
<polygon points="289.8,609.1 292.2,609.7 292.2,612.0 290.4,611.4" fill="#333"/>
<polygon points="226.3,685.2 246.5,667.4 248.3,669.8 228.7,687.6" fill="#C0C0C0"/>
<polygon points="228.7,687.6 248.3,669.8 254.8,671.0 236.4,688.8" fill="#333"/>
<polygon points="246.5,667.4 254.8,667.4 254.8,671.0 248.3,669.8" fill="#888"/>
<circle cx="242.4" cy="679.7" r="0.9" fill="#EDEDED"/>
<polygon points="255.4,667.4 285.1,648.5 293.4,647.3 293.4,649.7 263.7,669.8 256.0,671.0" fill="#B8B8B8"/>
<polygon points="257.8,671.0 293.4,650.2 294.6,651.1 264.9,670.8" fill="#2A2A2A"/>
<polyline points="293.4,647.9 304.0,643.7" fill="none" stroke="#8C8C8C" stroke-width="2.76" stroke-linecap="round" stroke-linejoin="round"/>
<polyline points="293.4,647.9 304.0,643.7" fill="none" stroke="#DADADA" stroke-width="1.8599999999999999" stroke-linecap="round" stroke-linejoin="round"/>
<polygon points="304.0,624.7 312.3,628.3 315.9,629.5 314.1,641.9 304.0,643.7 301.1,633.0" fill="#A8A8A8"/>
<polyline points="305.2,623.6 314.1,628.9 312.9,641.4" fill="none" stroke="#FFFFFF" stroke-width="1.44" stroke-linecap="round" stroke-linejoin="round"/>
<polygon points="304.0,620.0 318.3,620.0 320.7,625.3 312.3,624.7 306.4,623.6" fill="#999"/>
<polygon points="304.0,620.9 312.3,626.9 311.2,630.1 301.7,630.1" fill="#999"/>
<polygon points="204.9,694.9 221.5,698.5 221.5,700.8 208.5,699.1" fill="#999"/>
<polygon points="209.6,699.7 220.9,698.5 241.1,699.7 229.8,709.7 212.0,703.8" fill="#FFFFFF" stroke="#888" stroke-width="1.2" stroke-linejoin="round"/>
<polygon points="223.9,689.0 236.3,690.2 241.1,699.7 234.6,701.4 220.9,698.5" fill="#A8A8A8"/>
<polygon points="223.9,689.0 236.3,690.2 236.9,691.9 223.3,690.8" fill="#D8D8D8"/>
<polyline points="241.1,701.4 247.6,703.2 245.2,694.9" fill="none" stroke="#8C8C8C" stroke-width="2.76" stroke-linecap="round" stroke-linejoin="round"/>
<polyline points="241.1,701.4 247.6,703.2 245.2,694.9" fill="none" stroke="#DADADA" stroke-width="1.8599999999999999" stroke-linecap="round" stroke-linejoin="round"/>
<polyline points="234.7,688.2 235.8,690.6" fill="none" stroke="#333" stroke-width="2.4" stroke-linecap="round" stroke-linejoin="round"/>
<path d="M178.5,523.6 C177.3,529.7 173.6,551.0 171.7,560.0 C169.8,569.0 168.2,571.9 166.9,577.8 C165.7,583.7 164.8,589.7 164.0,595.6 C163.2,601.5 162.4,607.4 162.2,613.4 C162.0,619.3 162.6,627.6 162.8,631.2 C163.0,634.8 162.9,632.4 163.4,635.0 C163.9,637.6 164.6,642.5 165.8,646.9 C166.9,651.2 168.3,656.4 170.5,661.1 C172.7,665.8 175.4,670.8 178.8,675.3 C182.2,679.9 186.7,684.4 190.7,688.4 C194.6,692.3 199.5,696.3 202.5,699.1 C205.6,701.8 208.0,704.0 209.1,705.0 L209.6,703.8 C208.7,702.0 206.1,696.7 203.7,693.1 C201.3,689.6 198.0,686.0 195.4,682.4 C192.8,678.9 190.5,675.7 188.3,671.8 C186.1,667.8 183.9,663.1 182.4,658.7 C180.8,654.4 179.6,649.6 178.8,645.7 C178.0,641.7 177.8,637.4 177.6,635.0 C177.4,632.6 177.5,635.0 177.6,631.2 C177.7,627.4 177.8,618.5 178.2,612.2 C178.6,605.9 179.3,599.5 180.0,593.2 C180.7,586.9 181.8,579.8 182.4,574.2 C183.0,568.7 182.5,567.7 183.5,560.0 C184.6,552.3 187.7,533.2 188.5,527.8 Z" fill="#ACACAC"/>
<path d="M178.5,523.6 C177.3,529.7 173.6,551.0 171.7,560.0 C169.8,569.0 168.2,571.9 166.9,577.8 C165.7,583.7 164.8,589.7 164.0,595.6 C163.2,601.5 162.4,607.4 162.2,613.4 C162.0,619.3 162.6,627.6 162.8,631.2 C163.0,634.8 162.9,632.4 163.4,635.0 C163.9,637.6 164.6,642.5 165.8,646.9 C166.9,651.2 168.3,656.4 170.5,661.1 C172.7,665.8 175.4,670.8 178.8,675.3 C182.2,679.9 186.7,684.4 190.7,688.4 C194.6,692.3 199.5,696.3 202.5,699.1 C205.6,701.8 208.0,704.0 209.1,705.0 L209.1,704.8 C208.1,703.8 205.7,701.2 202.7,698.3 C199.7,695.4 195.0,691.5 191.3,687.6 C187.5,683.7 183.2,679.4 180.0,674.9 C176.8,670.4 174.1,665.5 172.0,660.8 C169.9,656.1 168.5,651.0 167.4,646.7 C166.2,642.4 165.6,637.6 165.2,635.0 C164.7,632.4 164.8,634.8 164.6,631.2 C164.5,627.5 164.0,619.2 164.2,613.2 C164.4,607.3 165.2,601.3 166.0,595.3 C166.8,589.3 167.7,583.2 168.9,577.3 C170.1,571.5 171.4,568.9 173.2,560.0 C175.0,551.1 178.6,530.1 179.7,524.2 Z" fill="#D4D4D4"/>
<path d="M179.5,524.1 C178.4,530.1 174.8,551.1 172.9,560.0 C171.1,568.9 169.8,571.5 168.6,577.4 C167.3,583.3 166.4,589.4 165.7,595.3 C164.9,601.3 164.1,607.3 163.9,613.3 C163.7,619.2 164.2,627.6 164.3,631.2 C164.5,634.8 164.4,632.4 164.9,635.0 C165.3,637.6 166.0,642.4 167.1,646.7 C168.3,651.0 169.6,656.1 171.7,660.8 C173.9,665.6 176.6,670.5 179.8,675.0 C183.0,679.4 187.4,683.8 191.2,687.8 C195.0,691.7 199.7,695.6 202.7,698.4 C205.6,701.3 208.0,703.8 209.1,704.9 L209.2,704.7 C208.1,703.5 205.7,700.5 202.8,697.6 C199.9,694.6 195.5,690.8 191.9,686.9 C188.2,683.0 184.2,678.8 181.2,674.4 C178.1,670.0 175.5,665.2 173.5,660.5 C171.4,655.9 170.1,650.8 169.0,646.6 C167.9,642.3 167.4,637.6 166.9,635.0 C166.5,632.4 166.6,634.8 166.5,631.2 C166.4,627.5 166.0,619.1 166.2,613.1 C166.4,607.1 167.2,601.0 168.0,595.0 C168.7,589.0 169.7,582.7 170.8,576.9 C171.9,571.1 173.0,568.7 174.7,560.0 C176.3,551.3 179.9,530.6 181.0,524.7 Z" fill="#C0C0C0"/>
<path d="M180.8,524.6 C179.7,530.5 176.1,551.3 174.4,560.0 C172.7,568.7 171.6,571.1 170.5,577.0 C169.4,582.8 168.4,589.0 167.7,595.0 C166.9,601.1 166.1,607.1 165.9,613.1 C165.6,619.1 166.1,627.5 166.2,631.2 C166.3,634.8 166.2,632.4 166.7,635.0 C167.1,637.6 167.7,642.3 168.8,646.6 C169.8,650.8 171.2,655.9 173.2,660.6 C175.3,665.2 177.9,670.1 181.0,674.5 C184.1,678.9 188.1,683.2 191.8,687.0 C195.4,690.9 199.9,694.7 202.8,697.7 C205.7,700.6 208.1,703.5 209.2,704.7 L209.3,704.5 C208.2,703.3 205.8,699.9 203.0,696.8 C200.2,693.8 195.9,690.0 192.4,686.2 C189.0,682.4 185.3,678.3 182.4,674.0 C179.4,669.7 176.9,664.8 174.9,660.2 C173.0,655.6 171.7,650.6 170.6,646.4 C169.6,642.2 169.1,637.5 168.7,635.0 C168.3,632.5 168.4,634.9 168.3,631.2 C168.3,627.5 167.9,619.0 168.2,612.9 C168.5,606.9 169.2,600.8 170.0,594.7 C170.7,588.6 171.7,582.2 172.7,576.5 C173.7,570.7 174.5,568.5 176.1,560.0 C177.7,551.5 181.2,531.0 182.2,525.2 Z" fill="#B8B8B8"/>
<path d="M182.0,525.1 C181.0,530.9 177.5,551.4 175.9,560.0 C174.3,568.6 173.5,570.7 172.4,576.5 C171.4,582.3 170.4,588.7 169.7,594.7 C168.9,600.8 168.1,606.9 167.9,613.0 C167.6,619.0 168.0,627.5 168.1,631.2 C168.1,634.8 168.0,632.5 168.4,635.0 C168.8,637.5 169.3,642.2 170.4,646.4 C171.4,650.7 172.7,655.7 174.7,660.3 C176.7,664.9 179.2,669.7 182.2,674.1 C185.1,678.4 188.9,682.5 192.3,686.3 C195.8,690.1 200.1,693.9 202.9,697.0 C205.8,700.0 208.2,703.3 209.3,704.6 L209.3,704.4 C208.3,703.0 205.8,699.3 203.1,696.1 C200.4,692.9 196.3,689.2 193.0,685.4 C189.8,681.7 186.3,677.8 183.5,673.6 C180.8,669.3 178.3,664.5 176.4,659.9 C174.6,655.4 173.3,650.4 172.3,646.3 C171.3,642.1 170.8,637.5 170.5,635.0 C170.2,632.5 170.3,634.9 170.2,631.2 C170.2,627.5 169.9,618.9 170.2,612.8 C170.5,606.7 171.2,600.5 172.0,594.4 C172.7,588.3 173.7,581.7 174.7,576.0 C175.6,570.3 176.1,568.4 177.6,560.0 C179.1,551.6 182.5,531.4 183.5,525.7 Z" fill="#B0B0B0"/>
<path d="M183.3,525.6 C182.3,531.4 178.9,551.6 177.4,560.0 C175.9,568.4 175.3,570.3 174.3,576.1 C173.4,581.8 172.4,588.3 171.7,594.4 C170.9,600.6 170.2,606.7 169.9,612.8 C169.6,618.9 169.8,627.5 169.9,631.2 C170.0,634.9 169.9,632.5 170.2,635.0 C170.6,637.5 171.0,642.1 172.0,646.3 C173.0,650.5 174.3,655.4 176.2,660.0 C178.1,664.5 180.6,669.4 183.4,673.6 C186.1,677.9 189.7,681.8 192.9,685.5 C196.2,689.3 200.4,693.1 203.1,696.2 C205.8,699.4 208.3,703.1 209.3,704.4 L209.4,704.2 C208.4,702.8 205.9,698.6 203.3,695.3 C200.6,692.1 196.7,688.4 193.6,684.7 C190.5,681.0 187.4,677.3 184.7,673.1 C182.1,668.9 179.7,664.1 177.9,659.6 C176.1,655.1 174.8,650.2 173.9,646.1 C173.0,642.0 172.6,637.5 172.3,635.0 C172.0,632.5 172.1,634.9 172.1,631.2 C172.0,627.4 171.9,618.8 172.2,612.6 C172.5,606.5 173.3,600.3 174.0,594.1 C174.7,587.9 175.7,581.3 176.6,575.6 C177.4,569.9 177.7,568.2 179.1,560.0 C180.5,551.8 183.8,531.9 184.8,526.2 Z" fill="#A7A7A7"/>
<path d="M184.6,526.2 C183.6,531.8 180.2,551.8 178.9,560.0 C177.5,568.2 177.1,569.9 176.3,575.6 C175.4,581.3 174.4,588.0 173.7,594.2 C172.9,600.3 172.2,606.5 171.9,612.7 C171.6,618.8 171.7,627.5 171.8,631.2 C171.8,634.9 171.7,632.5 172.0,635.0 C172.3,637.5 172.7,642.0 173.6,646.1 C174.6,650.3 175.9,655.2 177.7,659.7 C179.5,664.2 181.9,669.0 184.5,673.2 C187.2,677.4 190.4,681.1 193.5,684.8 C196.7,688.5 200.6,692.2 203.2,695.5 C205.9,698.7 208.4,702.8 209.4,704.3 L209.5,704.1 C208.5,702.5 206.0,698.0 203.4,694.6 C200.9,691.2 197.1,687.6 194.2,683.9 C191.3,680.3 188.4,676.8 185.9,672.7 C183.4,668.6 181.1,663.8 179.4,659.3 C177.7,654.9 176.4,650.0 175.5,646.0 C174.7,641.9 174.3,637.5 174.1,635.0 C173.8,632.5 173.9,634.9 173.9,631.2 C173.9,627.4 173.9,618.7 174.2,612.5 C174.6,606.3 175.3,600.0 176.0,593.8 C176.7,587.6 177.7,580.8 178.5,575.1 C179.3,569.5 179.3,568.1 180.6,560.0 C181.8,551.9 185.1,532.3 186.0,526.8 Z" fill="#9E9E9E"/>
<path d="M185.8,526.7 C184.9,532.2 181.6,551.9 180.3,560.0 C179.1,568.1 179.0,569.6 178.2,575.2 C177.4,580.8 176.4,587.6 175.7,593.9 C174.9,600.1 174.2,606.3 173.9,612.5 C173.5,618.7 173.6,627.4 173.6,631.2 C173.6,634.9 173.5,632.5 173.8,635.0 C174.1,637.5 174.4,641.9 175.3,646.0 C176.2,650.1 177.4,654.9 179.2,659.4 C180.9,663.8 183.2,668.6 185.7,672.7 C188.2,676.8 191.2,680.4 194.1,684.1 C197.1,687.7 200.8,691.4 203.4,694.7 C206.0,698.1 208.5,702.6 209.5,704.1 L209.6,704.0 C208.6,702.3 206.0,697.3 203.6,693.9 C201.1,690.4 197.6,686.8 194.8,683.2 C192.1,679.6 189.4,676.2 187.1,672.2 C184.8,668.2 182.5,663.4 180.9,659.0 C179.2,654.6 178.0,649.8 177.2,645.8 C176.3,641.8 176.1,637.4 175.8,635.0 C175.6,632.6 175.7,635.0 175.8,631.2 C175.8,627.4 175.8,618.6 176.2,612.3 C176.6,606.1 177.3,599.8 178.0,593.5 C178.7,587.2 179.8,580.3 180.4,574.7 C181.1,569.1 180.9,567.9 182.1,560.0 C183.2,552.1 186.4,532.7 187.3,527.3 Z" fill="#959595"/>
<path d="M187.1,527.2 C186.2,532.7 183.0,552.1 181.8,560.0 C180.7,567.9 180.8,569.2 180.1,574.8 C179.4,580.3 178.4,587.3 177.7,593.6 C177.0,599.8 176.3,606.1 175.9,612.4 C175.5,618.6 175.5,627.4 175.5,631.2 C175.4,634.9 175.3,632.6 175.6,635.0 C175.8,637.4 176.1,641.8 176.9,645.8 C177.8,649.9 179.0,654.7 180.6,659.1 C182.3,663.5 184.6,668.2 186.9,672.3 C189.3,676.3 192.0,679.7 194.7,683.3 C197.5,686.9 201.1,690.5 203.5,694.0 C206.0,697.4 208.6,702.3 209.6,704.0 L209.6,703.8 C208.7,702.0 206.1,696.7 203.7,693.1 C201.3,689.6 198.0,686.0 195.4,682.4 C192.8,678.9 190.5,675.7 188.3,671.8 C186.1,667.8 183.9,663.1 182.4,658.7 C180.8,654.4 179.6,649.6 178.8,645.7 C178.0,641.7 177.8,637.4 177.6,635.0 C177.4,632.6 177.5,635.0 177.6,631.2 C177.7,627.4 177.8,618.5 178.2,612.2 C178.6,605.9 179.3,599.5 180.0,593.2 C180.7,586.9 181.8,579.8 182.4,574.2 C183.0,568.7 182.5,567.7 183.5,560.0 C184.6,552.3 187.7,533.2 188.5,527.8 Z" fill="#868686"/>
<path d="M163.4,635.0 C163.8,637.0 164.6,642.5 165.8,646.9 C166.9,651.2 168.3,656.4 170.5,661.1 C172.7,665.8 175.4,670.8 178.8,675.3 C182.2,679.9 186.7,684.4 190.7,688.4 C194.6,692.3 199.5,696.3 202.5,699.1 C205.6,701.8 208.0,704.0 209.1,705.0 L209.6,703.8 C208.7,702.0 206.1,696.7 203.7,693.1 C201.3,689.6 198.0,686.0 195.4,682.4 C192.8,678.9 190.5,675.7 188.3,671.8 C186.1,667.8 183.9,663.1 182.4,658.7 C180.8,654.4 179.6,649.6 178.8,645.7 C178.0,641.7 177.8,636.8 177.6,635.0 Z" fill="url(#bg9)"/>
</g>
<g id="labels">
<ellipse cx="753.00" cy="129.00" rx="11.9" ry="11.0" fill="#4472C4"/>
<text transform="translate(753.00 137.30) scale(0.86 1)" text-anchor="middle" font-size="22.4" fill="#fff">C</text>
<ellipse cx="778.20" cy="129.00" rx="11.9" ry="11.0" fill="#4472C4"/>
<text transform="translate(778.20 137.30) scale(0.86 1)" text-anchor="middle" font-size="22.4" fill="#fff">G</text>
<ellipse cx="803.39" cy="129.00" rx="11.9" ry="11.0" fill="#4472C4"/>
<text transform="translate(803.39 137.30) scale(0.86 1)" text-anchor="middle" font-size="22.4" fill="#fff">C</text>
<ellipse cx="828.59" cy="129.00" rx="11.9" ry="11.0" fill="#92D050"/>
<text transform="translate(828.59 137.30) scale(0.86 1)" text-anchor="middle" font-size="22.4" fill="#fff">G</text>
<ellipse cx="853.78" cy="129.00" rx="11.9" ry="11.0" fill="#92D050"/>
<text transform="translate(853.78 137.30) scale(0.86 1)" text-anchor="middle" font-size="22.4" fill="#fff">U</text>
<ellipse cx="878.98" cy="129.00" rx="11.9" ry="11.0" fill="#92D050"/>
<text transform="translate(878.98 137.30) scale(0.86 1)" text-anchor="middle" font-size="22.4" fill="#fff">C</text>
<ellipse cx="904.17" cy="129.00" rx="11.9" ry="11.0" fill="#92D050"/>
<text transform="translate(904.17 137.30) scale(0.86 1)" text-anchor="middle" font-size="22.4" fill="#fff">A</text>
<ellipse cx="929.37" cy="129.00" rx="11.9" ry="11.0" fill="#4472C4"/>
<text transform="translate(929.37 137.30) scale(0.86 1)" text-anchor="middle" font-size="22.4" fill="#fff">C</text>
<ellipse cx="954.56" cy="129.00" rx="11.9" ry="11.0" fill="#4472C4"/>
<text transform="translate(954.56 137.30) scale(0.86 1)" text-anchor="middle" font-size="22.4" fill="#fff">A</text>
<ellipse cx="979.76" cy="129.00" rx="11.9" ry="11.0" fill="#4472C4"/>
<text transform="translate(979.76 137.30) scale(0.86 1)" text-anchor="middle" font-size="22.4" fill="#fff">C</text>
<ellipse cx="1004.95" cy="129.00" rx="11.9" ry="11.0" fill="#4472C4"/>
<text transform="translate(1004.95 137.30) scale(0.86 1)" text-anchor="middle" font-size="22.4" fill="#fff">C</text>
<ellipse cx="1030.15" cy="129.00" rx="11.9" ry="11.0" fill="#4472C4"/>
<text transform="translate(1030.15 137.30) scale(0.86 1)" text-anchor="middle" font-size="22.4" fill="#fff">G</text>
<ellipse cx="1055.34" cy="129.00" rx="11.9" ry="11.0" fill="#92D050"/>
<text transform="translate(1055.34 137.30) scale(0.86 1)" text-anchor="middle" font-size="22.4" fill="#fff">G</text>
<ellipse cx="1080.54" cy="129.00" rx="11.9" ry="11.0" fill="#92D050"/>
<text transform="translate(1080.54 137.30) scale(0.86 1)" text-anchor="middle" font-size="22.4" fill="#fff">U</text>
<ellipse cx="1105.73" cy="129.00" rx="11.9" ry="11.0" fill="#92D050"/>
<text transform="translate(1105.73 137.30) scale(0.86 1)" text-anchor="middle" font-size="22.4" fill="#fff">G</text>
<ellipse cx="1130.93" cy="129.00" rx="11.9" ry="11.0" fill="#92D050"/>
<text transform="translate(1130.93 137.30) scale(0.86 1)" text-anchor="middle" font-size="22.4" fill="#fff">A</text>
<ellipse cx="1156.12" cy="129.00" rx="11.9" ry="11.0" fill="#92D050"/>
<text transform="translate(1156.12 137.30) scale(0.86 1)" text-anchor="middle" font-size="22.4" fill="#fff">A</text>
<ellipse cx="1181.32" cy="129.00" rx="11.9" ry="11.0" fill="#92D050"/>
<text transform="translate(1181.32 137.30) scale(0.86 1)" text-anchor="middle" font-size="22.4" fill="#fff">G</text>
<ellipse cx="1206.51" cy="129.00" rx="11.9" ry="11.0" fill="#92D050"/>
<text transform="translate(1206.51 137.30) scale(0.86 1)" text-anchor="middle" font-size="22.4" fill="#fff">U</text>
<ellipse cx="1231.71" cy="129.00" rx="11.9" ry="11.0" fill="#92D050"/>
<text transform="translate(1231.71 137.30) scale(0.86 1)" text-anchor="middle" font-size="22.4" fill="#fff">C</text>
<ellipse cx="1256.90" cy="129.00" rx="11.9" ry="11.0" fill="#4472C4"/>
<text transform="translate(1256.90 137.30) scale(0.86 1)" text-anchor="middle" font-size="22.4" fill="#fff">G</text>
<ellipse cx="1282.10" cy="129.00" rx="11.9" ry="11.0" fill="#4472C4"/>
<text transform="translate(1282.10 137.30) scale(0.86 1)" text-anchor="middle" font-size="22.4" fill="#fff">C</text>
<ellipse cx="754.00" cy="165.10" rx="11.9" ry="11.0" fill="#4472C4"/>
<text transform="translate(754.00 173.40) scale(0.86 1)" text-anchor="middle" font-size="22.4" fill="#fff">C</text>
<ellipse cx="779.20" cy="165.05" rx="11.9" ry="11.0" fill="#4472C4"/>
<text transform="translate(779.20 173.35) scale(0.86 1)" text-anchor="middle" font-size="22.4" fill="#fff">G</text>
<ellipse cx="804.39" cy="165.00" rx="11.9" ry="11.0" fill="#FF0000"/>
<text transform="translate(804.39 173.30) scale(0.86 1)" text-anchor="middle" font-size="22.4" fill="#fff">C</text>
<ellipse cx="829.59" cy="164.94" rx="11.9" ry="11.0" fill="#92D050"/>
<text transform="translate(829.59 173.24) scale(0.86 1)" text-anchor="middle" font-size="22.4" fill="#fff">G</text>
<ellipse cx="854.78" cy="164.89" rx="11.9" ry="11.0" fill="#92D050"/>
<text transform="translate(854.78 173.19) scale(0.86 1)" text-anchor="middle" font-size="22.4" fill="#fff">U</text>
<ellipse cx="879.98" cy="164.84" rx="11.9" ry="11.0" fill="#92D050"/>
<text transform="translate(879.98 173.14) scale(0.86 1)" text-anchor="middle" font-size="22.4" fill="#fff">C</text>
<ellipse cx="905.17" cy="164.79" rx="11.9" ry="11.0" fill="#92D050"/>
<text transform="translate(905.17 173.09) scale(0.86 1)" text-anchor="middle" font-size="22.4" fill="#fff">A</text>
<ellipse cx="930.37" cy="164.73" rx="11.9" ry="11.0" fill="#FF0000"/>
<text transform="translate(930.37 173.03) scale(0.86 1)" text-anchor="middle" font-size="22.4" fill="#fff">C</text>
<ellipse cx="955.56" cy="164.68" rx="11.9" ry="11.0" fill="#FF0000"/>
<text transform="translate(955.56 172.98) scale(0.86 1)" text-anchor="middle" font-size="22.4" fill="#fff">A</text>
<ellipse cx="980.76" cy="164.63" rx="11.9" ry="11.0" fill="#4472C4"/>
<text transform="translate(980.76 172.93) scale(0.86 1)" text-anchor="middle" font-size="22.4" fill="#fff">C</text>
<ellipse cx="1005.95" cy="164.58" rx="11.9" ry="11.0" fill="#4472C4"/>
<text transform="translate(1005.95 172.88) scale(0.86 1)" text-anchor="middle" font-size="22.4" fill="#fff">C</text>
<ellipse cx="1031.15" cy="164.52" rx="11.9" ry="11.0" fill="#4472C4"/>
<text transform="translate(1031.15 172.82) scale(0.86 1)" text-anchor="middle" font-size="22.4" fill="#fff">G</text>
<ellipse cx="1056.34" cy="164.47" rx="11.9" ry="11.0" fill="#92D050"/>
<text transform="translate(1056.34 172.77) scale(0.86 1)" text-anchor="middle" font-size="22.4" fill="#fff">G</text>
<ellipse cx="1081.54" cy="164.42" rx="11.9" ry="11.0" fill="#92D050"/>
<text transform="translate(1081.54 172.72) scale(0.86 1)" text-anchor="middle" font-size="22.4" fill="#fff">U</text>
<ellipse cx="1106.73" cy="164.37" rx="11.9" ry="11.0" fill="#92D050"/>
<text transform="translate(1106.73 172.67) scale(0.86 1)" text-anchor="middle" font-size="22.4" fill="#fff">G</text>
<ellipse cx="1131.93" cy="164.31" rx="11.9" ry="11.0" fill="#FFC000"/>
<text transform="translate(1131.93 172.61) scale(0.86 1)" text-anchor="middle" font-size="22.4" fill="#fff">A</text>
<ellipse cx="1157.12" cy="164.26" rx="11.9" ry="11.0" fill="#FFC000"/>
<text transform="translate(1157.12 172.56) scale(0.86 1)" text-anchor="middle" font-size="22.4" fill="#fff">A</text>
<ellipse cx="1182.32" cy="164.21" rx="11.9" ry="11.0" fill="#92D050"/>
<text transform="translate(1182.32 172.51) scale(0.86 1)" text-anchor="middle" font-size="22.4" fill="#fff">G</text>
<ellipse cx="1207.51" cy="164.16" rx="11.9" ry="11.0" fill="#92D050"/>
<text transform="translate(1207.51 172.46) scale(0.86 1)" text-anchor="middle" font-size="22.4" fill="#fff">U</text>
<ellipse cx="1232.71" cy="164.10" rx="11.9" ry="11.0" fill="#92D050"/>
<text transform="translate(1232.71 172.40) scale(0.86 1)" text-anchor="middle" font-size="22.4" fill="#fff">C</text>
<ellipse cx="1257.90" cy="164.05" rx="11.9" ry="11.0" fill="#4472C4"/>
<text transform="translate(1257.90 172.35) scale(0.86 1)" text-anchor="middle" font-size="22.4" fill="#fff">G</text>
<ellipse cx="1283.10" cy="164.00" rx="11.9" ry="11.0" fill="#4472C4"/>
<text transform="translate(1283.10 172.30) scale(0.86 1)" text-anchor="middle" font-size="22.4" fill="#fff">C</text>
<text x="525.7" y="102" textLength="120" lengthAdjust="spacingAndGlyphs" font-size="21.8" fill="#000">PDB ID: 1J7T</text>
<text x="525.7" y="134.6" textLength="209" lengthAdjust="spacingAndGlyphs" font-size="16.8" font-weight="bold" fill="#000">Experimental binding sites:</text>
<text x="527.8" y="166.6" textLength="180.6" lengthAdjust="spacingAndGlyphs" font-size="16.8" font-weight="bold" fill="#000">Predicted binding sites:</text>
<ellipse cx="535.5" cy="350.8" rx="9.6" ry="9.6" fill="#92D050"/>
<ellipse cx="644" cy="353.8" rx="10" ry="9.6" fill="#FFC000"/>
<ellipse cx="782" cy="354.6" rx="10" ry="9.7" fill="#FF0000"/>
<text x="550.7" y="357" textLength="57.9" lengthAdjust="spacingAndGlyphs" font-size="16.8" font-weight="bold" fill="#000">Correct</text>
<text x="661" y="360.1" textLength="98.6" lengthAdjust="spacingAndGlyphs" font-size="16.8" font-weight="bold" fill="#000">Unidentified</text>
<text x="800.6" y="360.1" textLength="38.9" lengthAdjust="spacingAndGlyphs" font-size="16.8" font-weight="bold" fill="#000">False</text>
<ellipse cx="527.00" cy="550.00" rx="11.9" ry="11.0" fill="#4472C4"/>
<text transform="translate(527.00 558.30) scale(0.86 1)" text-anchor="middle" font-size="22.4" fill="#fff">G</text>
<ellipse cx="552.13" cy="549.93" rx="11.9" ry="11.0" fill="#4472C4"/>
<text transform="translate(552.13 558.23) scale(0.86 1)" text-anchor="middle" font-size="22.4" fill="#fff">G</text>
<ellipse cx="577.27" cy="549.87" rx="11.9" ry="11.0" fill="#4472C4"/>
<text transform="translate(577.27 558.17) scale(0.86 1)" text-anchor="middle" font-size="22.4" fill="#fff">C</text>
<ellipse cx="602.40" cy="549.80" rx="11.9" ry="11.0" fill="#4472C4"/>
<text transform="translate(602.40 558.10) scale(0.86 1)" text-anchor="middle" font-size="22.4" fill="#fff">C</text>
<ellipse cx="627.53" cy="549.73" rx="11.9" ry="11.0" fill="#4472C4"/>
<text transform="translate(627.53 558.03) scale(0.86 1)" text-anchor="middle" font-size="22.4" fill="#fff">A</text>
<ellipse cx="652.67" cy="549.67" rx="11.9" ry="11.0" fill="#4472C4"/>
<text transform="translate(652.67 557.97) scale(0.86 1)" text-anchor="middle" font-size="22.4" fill="#fff">G</text>
<ellipse cx="677.80" cy="549.60" rx="11.9" ry="11.0" fill="#92D050"/>
<text transform="translate(677.80 557.90) scale(0.86 1)" text-anchor="middle" font-size="22.4" fill="#fff">A</text>
<ellipse cx="702.93" cy="549.53" rx="11.9" ry="11.0" fill="#92D050"/>
<text transform="translate(702.93 557.83) scale(0.86 1)" text-anchor="middle" font-size="22.4" fill="#fff">U</text>
<ellipse cx="728.07" cy="549.47" rx="11.9" ry="11.0" fill="#92D050"/>
<text transform="translate(728.07 557.77) scale(0.86 1)" text-anchor="middle" font-size="22.4" fill="#fff">C</text>
<ellipse cx="753.20" cy="549.40" rx="11.9" ry="11.0" fill="#92D050"/>
<text transform="translate(753.20 557.70) scale(0.86 1)" text-anchor="middle" font-size="22.4" fill="#fff">U</text>
<ellipse cx="778.33" cy="549.33" rx="11.9" ry="11.0" fill="#92D050"/>
<text transform="translate(778.33 557.63) scale(0.86 1)" text-anchor="middle" font-size="22.4" fill="#fff">G</text>
<ellipse cx="803.47" cy="549.27" rx="11.9" ry="11.0" fill="#4472C4"/>
<text transform="translate(803.47 557.57) scale(0.86 1)" text-anchor="middle" font-size="22.4" fill="#fff">A</text>
<ellipse cx="828.60" cy="549.20" rx="11.9" ry="11.0" fill="#4472C4"/>
<text transform="translate(828.60 557.50) scale(0.86 1)" text-anchor="middle" font-size="22.4" fill="#fff">G</text>
<ellipse cx="853.73" cy="549.13" rx="11.9" ry="11.0" fill="#4472C4"/>
<text transform="translate(853.73 557.43) scale(0.86 1)" text-anchor="middle" font-size="22.4" fill="#fff">C</text>
<ellipse cx="878.87" cy="549.07" rx="11.9" ry="11.0" fill="#4472C4"/>
<text transform="translate(878.87 557.37) scale(0.86 1)" text-anchor="middle" font-size="22.4" fill="#fff">C</text>
<ellipse cx="904.00" cy="549.00" rx="11.9" ry="11.0" fill="#4472C4"/>
<text transform="translate(904.00 557.30) scale(0.86 1)" text-anchor="middle" font-size="22.4" fill="#fff">U</text>
<ellipse cx="929.13" cy="548.93" rx="11.9" ry="11.0" fill="#4472C4"/>
<text transform="translate(929.13 557.23) scale(0.86 1)" text-anchor="middle" font-size="22.4" fill="#fff">G</text>
<ellipse cx="954.27" cy="548.87" rx="11.9" ry="11.0" fill="#4472C4"/>
<text transform="translate(954.27 557.17) scale(0.86 1)" text-anchor="middle" font-size="22.4" fill="#fff">G</text>
<ellipse cx="979.40" cy="548.80" rx="11.9" ry="11.0" fill="#4472C4"/>
<text transform="translate(979.40 557.10) scale(0.86 1)" text-anchor="middle" font-size="22.4" fill="#fff">G</text>
<ellipse cx="1004.53" cy="548.73" rx="11.9" ry="11.0" fill="#4472C4"/>
<text transform="translate(1004.53 557.03) scale(0.86 1)" text-anchor="middle" font-size="22.4" fill="#fff">A</text>
<ellipse cx="1029.67" cy="548.67" rx="11.9" ry="11.0" fill="#4472C4"/>
<text transform="translate(1029.67 556.97) scale(0.86 1)" text-anchor="middle" font-size="22.4" fill="#fff">G</text>
<ellipse cx="1054.80" cy="548.60" rx="11.9" ry="11.0" fill="#4472C4"/>
<text transform="translate(1054.80 556.90) scale(0.86 1)" text-anchor="middle" font-size="22.4" fill="#fff">C</text>
<ellipse cx="1079.93" cy="548.53" rx="11.9" ry="11.0" fill="#4472C4"/>
<text transform="translate(1079.93 556.83) scale(0.86 1)" text-anchor="middle" font-size="22.4" fill="#fff">U</text>
<ellipse cx="1105.07" cy="548.47" rx="11.9" ry="11.0" fill="#92D050"/>
<text transform="translate(1105.07 556.77) scale(0.86 1)" text-anchor="middle" font-size="22.4" fill="#fff">C</text>
<ellipse cx="1130.20" cy="548.40" rx="11.9" ry="11.0" fill="#92D050"/>
<text transform="translate(1130.20 556.70) scale(0.86 1)" text-anchor="middle" font-size="22.4" fill="#fff">U</text>
<ellipse cx="1155.33" cy="548.33" rx="11.9" ry="11.0" fill="#4472C4"/>
<text transform="translate(1155.33 556.63) scale(0.86 1)" text-anchor="middle" font-size="22.4" fill="#fff">C</text>
<ellipse cx="1180.47" cy="548.27" rx="11.9" ry="11.0" fill="#4472C4"/>
<text transform="translate(1180.47 556.57) scale(0.86 1)" text-anchor="middle" font-size="22.4" fill="#fff">U</text>
<ellipse cx="1205.60" cy="548.20" rx="11.9" ry="11.0" fill="#4472C4"/>
<text transform="translate(1205.60 556.50) scale(0.86 1)" text-anchor="middle" font-size="22.4" fill="#fff">G</text>
<ellipse cx="1230.73" cy="548.13" rx="11.9" ry="11.0" fill="#4472C4"/>
<text transform="translate(1230.73 556.43) scale(0.86 1)" text-anchor="middle" font-size="22.4" fill="#fff">G</text>
<ellipse cx="1255.87" cy="548.07" rx="11.9" ry="11.0" fill="#4472C4"/>
<text transform="translate(1255.87 556.37) scale(0.86 1)" text-anchor="middle" font-size="22.4" fill="#fff">C</text>
<ellipse cx="1281.00" cy="548.00" rx="11.9" ry="11.0" fill="#4472C4"/>
<text transform="translate(1281.00 556.30) scale(0.86 1)" text-anchor="middle" font-size="22.4" fill="#fff">C</text>
<ellipse cx="528.00" cy="586.20" rx="11.9" ry="11.0" fill="#4472C4"/>
<text transform="translate(528.00 594.50) scale(0.86 1)" text-anchor="middle" font-size="22.4" fill="#fff">G</text>
<ellipse cx="553.17" cy="586.13" rx="11.9" ry="11.0" fill="#4472C4"/>
<text transform="translate(553.17 594.43) scale(0.86 1)" text-anchor="middle" font-size="22.4" fill="#fff">G</text>
<ellipse cx="578.33" cy="586.05" rx="11.9" ry="11.0" fill="#4472C4"/>
<text transform="translate(578.33 594.35) scale(0.86 1)" text-anchor="middle" font-size="22.4" fill="#fff">C</text>
<ellipse cx="603.50" cy="585.98" rx="11.9" ry="11.0" fill="#4472C4"/>
<text transform="translate(603.50 594.28) scale(0.86 1)" text-anchor="middle" font-size="22.4" fill="#fff">C</text>
<ellipse cx="628.67" cy="585.91" rx="11.9" ry="11.0" fill="#4472C4"/>
<text transform="translate(628.67 594.21) scale(0.86 1)" text-anchor="middle" font-size="22.4" fill="#fff">A</text>
<ellipse cx="653.83" cy="585.83" rx="11.9" ry="11.0" fill="#FF0000"/>
<text transform="translate(653.83 594.13) scale(0.86 1)" text-anchor="middle" font-size="22.4" fill="#fff">G</text>
<ellipse cx="679.00" cy="585.76" rx="11.9" ry="11.0" fill="#92D050"/>
<text transform="translate(679.00 594.06) scale(0.86 1)" text-anchor="middle" font-size="22.4" fill="#fff">A</text>
<ellipse cx="704.17" cy="585.69" rx="11.9" ry="11.0" fill="#92D050"/>
<text transform="translate(704.17 593.99) scale(0.86 1)" text-anchor="middle" font-size="22.4" fill="#fff">U</text>
<ellipse cx="729.33" cy="585.61" rx="11.9" ry="11.0" fill="#92D050"/>
<text transform="translate(729.33 593.91) scale(0.86 1)" text-anchor="middle" font-size="22.4" fill="#fff">C</text>
<ellipse cx="754.50" cy="585.54" rx="11.9" ry="11.0" fill="#92D050"/>
<text transform="translate(754.50 593.84) scale(0.86 1)" text-anchor="middle" font-size="22.4" fill="#fff">U</text>
<ellipse cx="779.67" cy="585.47" rx="11.9" ry="11.0" fill="#FFC000"/>
<text transform="translate(779.67 593.77) scale(0.86 1)" text-anchor="middle" font-size="22.4" fill="#fff">G</text>
<ellipse cx="804.83" cy="585.39" rx="11.9" ry="11.0" fill="#4472C4"/>
<text transform="translate(804.83 593.69) scale(0.86 1)" text-anchor="middle" font-size="22.4" fill="#fff">A</text>
<ellipse cx="830.00" cy="585.32" rx="11.9" ry="11.0" fill="#4472C4"/>
<text transform="translate(830.00 593.62) scale(0.86 1)" text-anchor="middle" font-size="22.4" fill="#fff">G</text>
<ellipse cx="855.17" cy="585.25" rx="11.9" ry="11.0" fill="#4472C4"/>
<text transform="translate(855.17 593.55) scale(0.86 1)" text-anchor="middle" font-size="22.4" fill="#fff">C</text>
<ellipse cx="880.33" cy="585.17" rx="11.9" ry="11.0" fill="#4472C4"/>
<text transform="translate(880.33 593.47) scale(0.86 1)" text-anchor="middle" font-size="22.4" fill="#fff">C</text>
<ellipse cx="905.50" cy="585.10" rx="11.9" ry="11.0" fill="#4472C4"/>
<text transform="translate(905.50 593.40) scale(0.86 1)" text-anchor="middle" font-size="22.4" fill="#fff">U</text>
<ellipse cx="930.67" cy="585.03" rx="11.9" ry="11.0" fill="#4472C4"/>
<text transform="translate(930.67 593.33) scale(0.86 1)" text-anchor="middle" font-size="22.4" fill="#fff">G</text>
<ellipse cx="955.83" cy="584.95" rx="11.9" ry="11.0" fill="#4472C4"/>
<text transform="translate(955.83 593.25) scale(0.86 1)" text-anchor="middle" font-size="22.4" fill="#fff">G</text>
<ellipse cx="981.00" cy="584.88" rx="11.9" ry="11.0" fill="#4472C4"/>
<text transform="translate(981.00 593.18) scale(0.86 1)" text-anchor="middle" font-size="22.4" fill="#fff">G</text>
<ellipse cx="1006.17" cy="584.81" rx="11.9" ry="11.0" fill="#4472C4"/>
<text transform="translate(1006.17 593.11) scale(0.86 1)" text-anchor="middle" font-size="22.4" fill="#fff">A</text>
<ellipse cx="1031.33" cy="584.73" rx="11.9" ry="11.0" fill="#4472C4"/>
<text transform="translate(1031.33 593.03) scale(0.86 1)" text-anchor="middle" font-size="22.4" fill="#fff">G</text>
<ellipse cx="1056.50" cy="584.66" rx="11.9" ry="11.0" fill="#4472C4"/>
<text transform="translate(1056.50 592.96) scale(0.86 1)" text-anchor="middle" font-size="22.4" fill="#fff">C</text>
<ellipse cx="1081.67" cy="584.59" rx="11.9" ry="11.0" fill="#4472C4"/>
<text transform="translate(1081.67 592.89) scale(0.86 1)" text-anchor="middle" font-size="22.4" fill="#fff">U</text>
<ellipse cx="1106.83" cy="584.51" rx="11.9" ry="11.0" fill="#92D050"/>
<text transform="translate(1106.83 592.81) scale(0.86 1)" text-anchor="middle" font-size="22.4" fill="#fff">C</text>
<ellipse cx="1132.00" cy="584.44" rx="11.9" ry="11.0" fill="#92D050"/>
<text transform="translate(1132.00 592.74) scale(0.86 1)" text-anchor="middle" font-size="22.4" fill="#fff">U</text>
<ellipse cx="1157.17" cy="584.37" rx="11.9" ry="11.0" fill="#FF0000"/>
<text transform="translate(1157.17 592.67) scale(0.86 1)" text-anchor="middle" font-size="22.4" fill="#fff">C</text>
<ellipse cx="1182.33" cy="584.29" rx="11.9" ry="11.0" fill="#4472C4"/>
<text transform="translate(1182.33 592.59) scale(0.86 1)" text-anchor="middle" font-size="22.4" fill="#fff">U</text>
<ellipse cx="1207.50" cy="584.22" rx="11.9" ry="11.0" fill="#4472C4"/>
<text transform="translate(1207.50 592.52) scale(0.86 1)" text-anchor="middle" font-size="22.4" fill="#fff">G</text>
<ellipse cx="1232.67" cy="584.15" rx="11.9" ry="11.0" fill="#4472C4"/>
<text transform="translate(1232.67 592.45) scale(0.86 1)" text-anchor="middle" font-size="22.4" fill="#fff">G</text>
<ellipse cx="1257.83" cy="584.07" rx="11.9" ry="11.0" fill="#4472C4"/>
<text transform="translate(1257.83 592.37) scale(0.86 1)" text-anchor="middle" font-size="22.4" fill="#fff">C</text>
<ellipse cx="1283.00" cy="584.00" rx="11.9" ry="11.0" fill="#4472C4"/>
<text transform="translate(1283.00 592.30) scale(0.86 1)" text-anchor="middle" font-size="22.4" fill="#fff">C</text>
<text x="302.5" y="524.8" textLength="116.5" lengthAdjust="spacingAndGlyphs" font-size="21.8" fill="#000">PDB ID: 1LVJ</text>
<text x="303" y="553.9" textLength="208.9" lengthAdjust="spacingAndGlyphs" font-size="16.8" font-weight="bold" fill="#000">Experimental binding sites:</text>
<text x="303" y="589.7" textLength="180.3" lengthAdjust="spacingAndGlyphs" font-size="16.8" font-weight="bold" fill="#000">Predicted binding sites:</text>
</g>
</svg>
</body></html>
